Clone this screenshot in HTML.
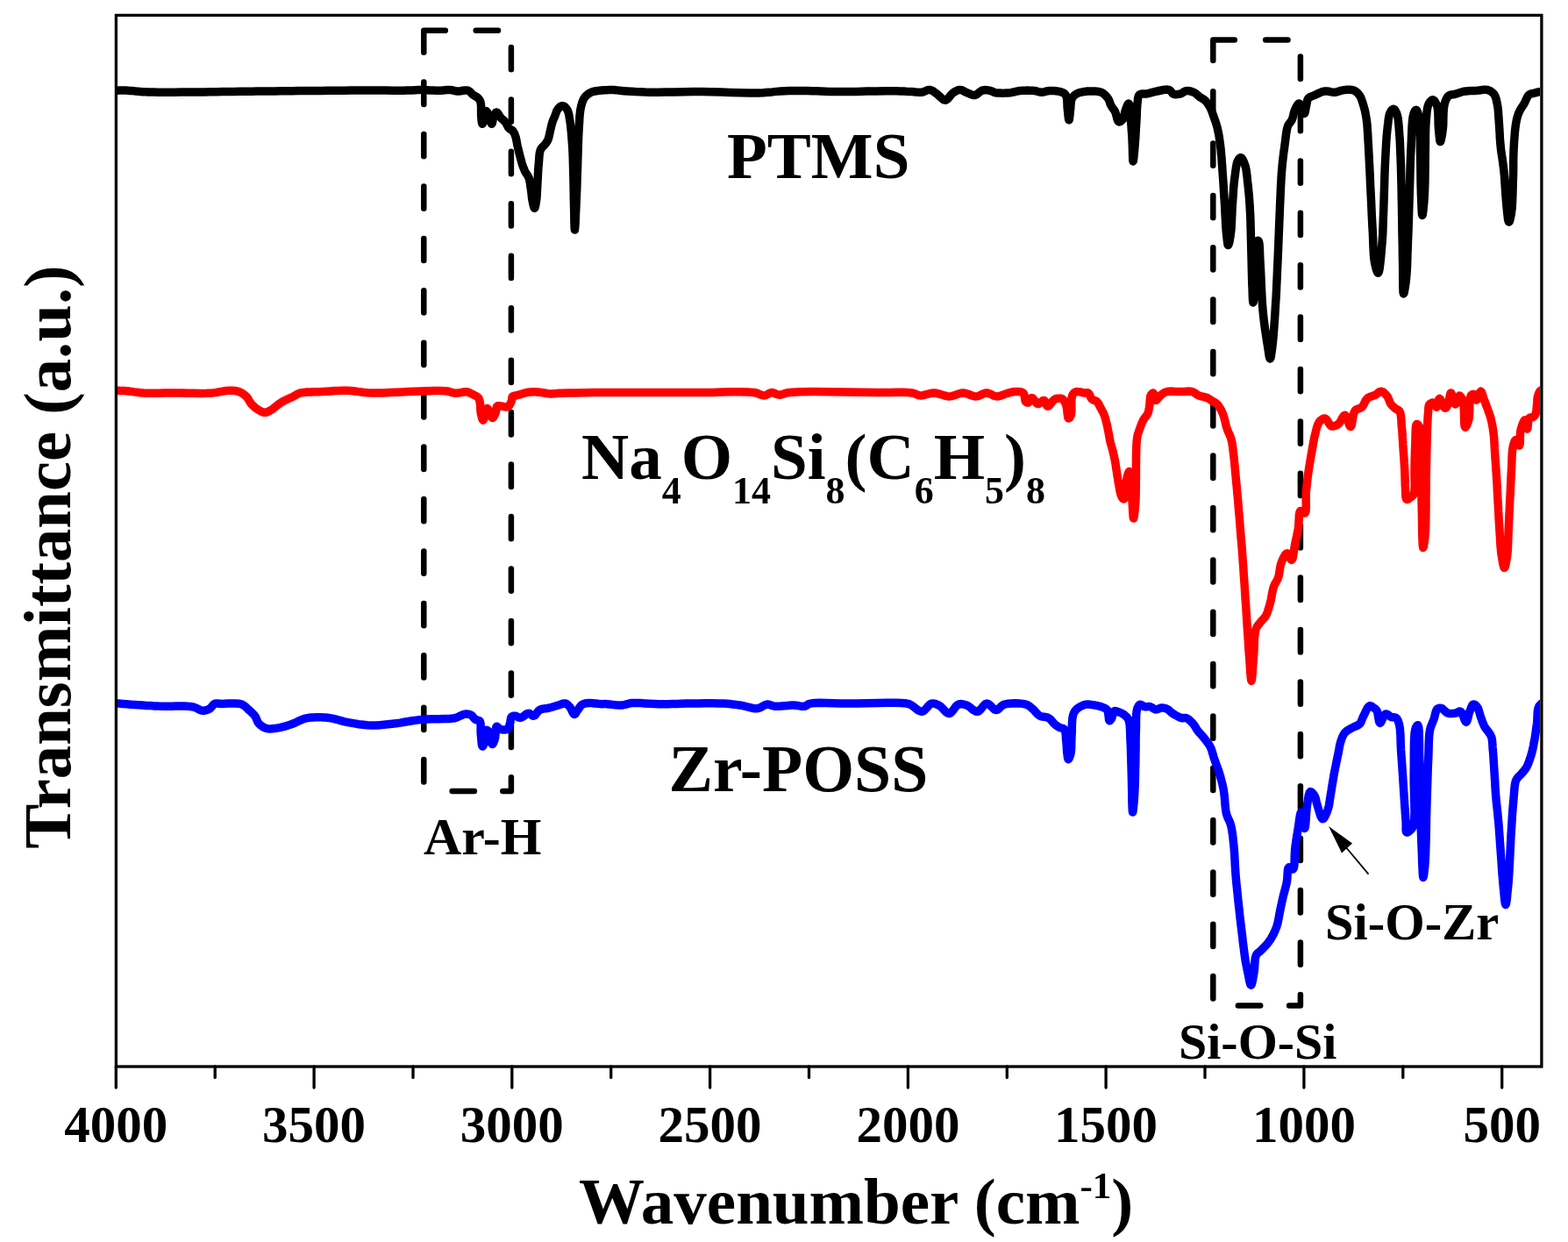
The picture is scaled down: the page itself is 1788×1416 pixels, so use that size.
<!DOCTYPE html>
<html><head><meta charset="utf-8"><title>FTIR spectra</title>
<style>html,body{margin:0;padding:0;background:#fff;overflow:hidden}svg{display:block}</style>
</head><body>
<svg width="1788" height="1416" viewBox="0 0 1788 1416" font-family='"Liberation Serif", "Times New Roman", serif' font-weight="bold"><rect x="132.4" y="17.4" width="1625.5" height="1198.6" fill="none" stroke="#000" stroke-width="3.3"/>
<line x1="132.3" y1="1216" x2="132.3" y2="1240" stroke="#000" stroke-width="3.3" stroke-linecap="round"/>
<text x="132.3" y="1302" font-size="59" text-anchor="middle">4000</text>
<line x1="245.2" y1="1216" x2="245.2" y2="1228.5" stroke="#000" stroke-width="3.3" stroke-linecap="round"/>
<line x1="358.1" y1="1216" x2="358.1" y2="1240" stroke="#000" stroke-width="3.3" stroke-linecap="round"/>
<text x="358.1" y="1302" font-size="59" text-anchor="middle">3500</text>
<line x1="471.0" y1="1216" x2="471.0" y2="1228.5" stroke="#000" stroke-width="3.3" stroke-linecap="round"/>
<line x1="583.8" y1="1216" x2="583.8" y2="1240" stroke="#000" stroke-width="3.3" stroke-linecap="round"/>
<text x="583.8" y="1302" font-size="59" text-anchor="middle">3000</text>
<line x1="696.7" y1="1216" x2="696.7" y2="1228.5" stroke="#000" stroke-width="3.3" stroke-linecap="round"/>
<line x1="809.6" y1="1216" x2="809.6" y2="1240" stroke="#000" stroke-width="3.3" stroke-linecap="round"/>
<text x="809.6" y="1302" font-size="59" text-anchor="middle">2500</text>
<line x1="922.5" y1="1216" x2="922.5" y2="1228.5" stroke="#000" stroke-width="3.3" stroke-linecap="round"/>
<line x1="1035.4" y1="1216" x2="1035.4" y2="1240" stroke="#000" stroke-width="3.3" stroke-linecap="round"/>
<text x="1035.4" y="1302" font-size="59" text-anchor="middle">2000</text>
<line x1="1148.3" y1="1216" x2="1148.3" y2="1228.5" stroke="#000" stroke-width="3.3" stroke-linecap="round"/>
<line x1="1261.1" y1="1216" x2="1261.1" y2="1240" stroke="#000" stroke-width="3.3" stroke-linecap="round"/>
<text x="1261.1" y="1302" font-size="59" text-anchor="middle">1500</text>
<line x1="1374.0" y1="1216" x2="1374.0" y2="1228.5" stroke="#000" stroke-width="3.3" stroke-linecap="round"/>
<line x1="1486.9" y1="1216" x2="1486.9" y2="1240" stroke="#000" stroke-width="3.3" stroke-linecap="round"/>
<text x="1486.9" y="1302" font-size="59" text-anchor="middle">1000</text>
<line x1="1599.8" y1="1216" x2="1599.8" y2="1228.5" stroke="#000" stroke-width="3.3" stroke-linecap="round"/>
<line x1="1712.7" y1="1216" x2="1712.7" y2="1240" stroke="#000" stroke-width="3.3" stroke-linecap="round"/>
<text x="1712.7" y="1302" font-size="59" text-anchor="middle">500</text>
<polyline points="483.3,59.8 483.3,34.8 507.8,34.8" fill="none" stroke="#000" stroke-width="6.5" stroke-linecap="round" stroke-linejoin="round"/>
<polyline points="542.7,34.8 568.0,34.8" fill="none" stroke="#000" stroke-width="6.5" stroke-linecap="round" stroke-linejoin="round"/>
<polyline points="582.9,53.9 582.9,79.2" fill="none" stroke="#000" stroke-width="6.5" stroke-linecap="round" stroke-linejoin="round"/>
<polyline points="582.9,113.4 582.9,138.7" fill="none" stroke="#000" stroke-width="6.5" stroke-linecap="round" stroke-linejoin="round"/>
<polyline points="582.9,172.8 582.9,198.2" fill="none" stroke="#000" stroke-width="6.5" stroke-linecap="round" stroke-linejoin="round"/>
<polyline points="582.9,232.3 582.9,257.6" fill="none" stroke="#000" stroke-width="6.5" stroke-linecap="round" stroke-linejoin="round"/>
<polyline points="582.9,291.8 582.9,317.0" fill="none" stroke="#000" stroke-width="6.5" stroke-linecap="round" stroke-linejoin="round"/>
<polyline points="582.9,351.2 582.9,376.5" fill="none" stroke="#000" stroke-width="6.5" stroke-linecap="round" stroke-linejoin="round"/>
<polyline points="582.9,410.7 582.9,436.0" fill="none" stroke="#000" stroke-width="6.5" stroke-linecap="round" stroke-linejoin="round"/>
<polyline points="582.9,470.1 582.9,495.4" fill="none" stroke="#000" stroke-width="6.5" stroke-linecap="round" stroke-linejoin="round"/>
<polyline points="582.9,529.6 582.9,554.9" fill="none" stroke="#000" stroke-width="6.5" stroke-linecap="round" stroke-linejoin="round"/>
<polyline points="582.9,589.0 582.9,614.3" fill="none" stroke="#000" stroke-width="6.5" stroke-linecap="round" stroke-linejoin="round"/>
<polyline points="582.9,648.5 582.9,673.8" fill="none" stroke="#000" stroke-width="6.5" stroke-linecap="round" stroke-linejoin="round"/>
<polyline points="582.9,707.9 582.9,733.2" fill="none" stroke="#000" stroke-width="6.5" stroke-linecap="round" stroke-linejoin="round"/>
<polyline points="582.9,767.4 582.9,792.7" fill="none" stroke="#000" stroke-width="6.5" stroke-linecap="round" stroke-linejoin="round"/>
<polyline points="582.9,826.8 582.9,852.1" fill="none" stroke="#000" stroke-width="6.5" stroke-linecap="round" stroke-linejoin="round"/>
<polyline points="582.9,886.3 582.9,902.0 573.3,902.0" fill="none" stroke="#000" stroke-width="6.5" stroke-linecap="round" stroke-linejoin="round"/>
<polyline points="540.9,902.0 515.6,902.0" fill="none" stroke="#000" stroke-width="6.5" stroke-linecap="round" stroke-linejoin="round"/>
<polyline points="483.3,891.4 483.3,866.1" fill="none" stroke="#000" stroke-width="6.5" stroke-linecap="round" stroke-linejoin="round"/>
<polyline points="483.3,832.0 483.3,806.7" fill="none" stroke="#000" stroke-width="6.5" stroke-linecap="round" stroke-linejoin="round"/>
<polyline points="483.3,772.6 483.3,747.3" fill="none" stroke="#000" stroke-width="6.5" stroke-linecap="round" stroke-linejoin="round"/>
<polyline points="483.3,713.2 483.3,687.9" fill="none" stroke="#000" stroke-width="6.5" stroke-linecap="round" stroke-linejoin="round"/>
<polyline points="483.3,653.7 483.3,628.4" fill="none" stroke="#000" stroke-width="6.5" stroke-linecap="round" stroke-linejoin="round"/>
<polyline points="483.3,594.3 483.3,569.0" fill="none" stroke="#000" stroke-width="6.5" stroke-linecap="round" stroke-linejoin="round"/>
<polyline points="483.3,534.9 483.3,509.6" fill="none" stroke="#000" stroke-width="6.5" stroke-linecap="round" stroke-linejoin="round"/>
<polyline points="483.3,475.4 483.3,450.1" fill="none" stroke="#000" stroke-width="6.5" stroke-linecap="round" stroke-linejoin="round"/>
<polyline points="483.3,416.0 483.3,390.7" fill="none" stroke="#000" stroke-width="6.5" stroke-linecap="round" stroke-linejoin="round"/>
<polyline points="483.3,356.6 483.3,331.3" fill="none" stroke="#000" stroke-width="6.5" stroke-linecap="round" stroke-linejoin="round"/>
<polyline points="483.3,297.1 483.3,271.9" fill="none" stroke="#000" stroke-width="6.5" stroke-linecap="round" stroke-linejoin="round"/>
<polyline points="483.3,237.7 483.3,212.4" fill="none" stroke="#000" stroke-width="6.5" stroke-linecap="round" stroke-linejoin="round"/>
<polyline points="483.3,178.3 483.3,153.0" fill="none" stroke="#000" stroke-width="6.5" stroke-linecap="round" stroke-linejoin="round"/>
<polyline points="483.3,118.9 483.3,93.6" fill="none" stroke="#000" stroke-width="6.5" stroke-linecap="round" stroke-linejoin="round"/>
<polyline points="1383.3,68.9 1383.3,45.4 1407.8,45.4" fill="none" stroke="#000" stroke-width="6.5" stroke-linecap="round" stroke-linejoin="round"/>
<polyline points="1443.2,45.4 1468.5,45.4" fill="none" stroke="#000" stroke-width="6.5" stroke-linecap="round" stroke-linejoin="round"/>
<polyline points="1482.9,64.5 1482.9,89.9" fill="none" stroke="#000" stroke-width="6.5" stroke-linecap="round" stroke-linejoin="round"/>
<polyline points="1482.9,124.0 1482.9,149.3" fill="none" stroke="#000" stroke-width="6.5" stroke-linecap="round" stroke-linejoin="round"/>
<polyline points="1482.9,183.4 1482.9,208.7" fill="none" stroke="#000" stroke-width="6.5" stroke-linecap="round" stroke-linejoin="round"/>
<polyline points="1482.9,242.8 1482.9,268.1" fill="none" stroke="#000" stroke-width="6.5" stroke-linecap="round" stroke-linejoin="round"/>
<polyline points="1482.9,302.2 1482.9,327.5" fill="none" stroke="#000" stroke-width="6.5" stroke-linecap="round" stroke-linejoin="round"/>
<polyline points="1482.9,361.6 1482.9,386.9" fill="none" stroke="#000" stroke-width="6.5" stroke-linecap="round" stroke-linejoin="round"/>
<polyline points="1482.9,421.0 1482.9,446.3" fill="none" stroke="#000" stroke-width="6.5" stroke-linecap="round" stroke-linejoin="round"/>
<polyline points="1482.9,480.4 1482.9,505.7" fill="none" stroke="#000" stroke-width="6.5" stroke-linecap="round" stroke-linejoin="round"/>
<polyline points="1482.9,539.8 1482.9,565.1" fill="none" stroke="#000" stroke-width="6.5" stroke-linecap="round" stroke-linejoin="round"/>
<polyline points="1482.9,599.2 1482.9,624.5" fill="none" stroke="#000" stroke-width="6.5" stroke-linecap="round" stroke-linejoin="round"/>
<polyline points="1482.9,658.6 1482.9,683.9" fill="none" stroke="#000" stroke-width="6.5" stroke-linecap="round" stroke-linejoin="round"/>
<polyline points="1482.9,718.1 1482.9,743.4" fill="none" stroke="#000" stroke-width="6.5" stroke-linecap="round" stroke-linejoin="round"/>
<polyline points="1482.9,777.5 1482.9,802.8" fill="none" stroke="#000" stroke-width="6.5" stroke-linecap="round" stroke-linejoin="round"/>
<polyline points="1482.9,836.9 1482.9,862.2" fill="none" stroke="#000" stroke-width="6.5" stroke-linecap="round" stroke-linejoin="round"/>
<polyline points="1482.9,896.3 1482.9,921.6" fill="none" stroke="#000" stroke-width="6.5" stroke-linecap="round" stroke-linejoin="round"/>
<polyline points="1482.9,955.7 1482.9,981.0" fill="none" stroke="#000" stroke-width="6.5" stroke-linecap="round" stroke-linejoin="round"/>
<polyline points="1482.9,1015.1 1482.9,1040.4" fill="none" stroke="#000" stroke-width="6.5" stroke-linecap="round" stroke-linejoin="round"/>
<polyline points="1482.9,1074.5 1482.9,1099.8" fill="none" stroke="#000" stroke-width="6.5" stroke-linecap="round" stroke-linejoin="round"/>
<polyline points="1482.9,1133.9 1482.9,1146.4 1470.1,1146.4" fill="none" stroke="#000" stroke-width="6.5" stroke-linecap="round" stroke-linejoin="round"/>
<polyline points="1437.2,1146.4 1411.9,1146.4" fill="none" stroke="#000" stroke-width="6.5" stroke-linecap="round" stroke-linejoin="round"/>
<polyline points="1383.3,1138.5 1383.3,1113.1" fill="none" stroke="#000" stroke-width="6.5" stroke-linecap="round" stroke-linejoin="round"/>
<polyline points="1383.3,1079.1 1383.3,1053.8" fill="none" stroke="#000" stroke-width="6.5" stroke-linecap="round" stroke-linejoin="round"/>
<polyline points="1383.3,1019.7 1383.3,994.4" fill="none" stroke="#000" stroke-width="6.5" stroke-linecap="round" stroke-linejoin="round"/>
<polyline points="1383.3,960.4 1383.3,935.1" fill="none" stroke="#000" stroke-width="6.5" stroke-linecap="round" stroke-linejoin="round"/>
<polyline points="1383.3,901.0 1383.3,875.8" fill="none" stroke="#000" stroke-width="6.5" stroke-linecap="round" stroke-linejoin="round"/>
<polyline points="1383.3,841.7 1383.3,816.4" fill="none" stroke="#000" stroke-width="6.5" stroke-linecap="round" stroke-linejoin="round"/>
<polyline points="1383.3,782.3 1383.3,757.0" fill="none" stroke="#000" stroke-width="6.5" stroke-linecap="round" stroke-linejoin="round"/>
<polyline points="1383.3,723.0 1383.3,697.7" fill="none" stroke="#000" stroke-width="6.5" stroke-linecap="round" stroke-linejoin="round"/>
<polyline points="1383.3,663.6 1383.3,638.4" fill="none" stroke="#000" stroke-width="6.5" stroke-linecap="round" stroke-linejoin="round"/>
<polyline points="1383.3,604.3 1383.3,579.0" fill="none" stroke="#000" stroke-width="6.5" stroke-linecap="round" stroke-linejoin="round"/>
<polyline points="1383.3,544.9 1383.3,519.6" fill="none" stroke="#000" stroke-width="6.5" stroke-linecap="round" stroke-linejoin="round"/>
<polyline points="1383.3,485.6 1383.3,460.3" fill="none" stroke="#000" stroke-width="6.5" stroke-linecap="round" stroke-linejoin="round"/>
<polyline points="1383.3,426.2 1383.3,400.9" fill="none" stroke="#000" stroke-width="6.5" stroke-linecap="round" stroke-linejoin="round"/>
<polyline points="1383.3,366.9 1383.3,341.6" fill="none" stroke="#000" stroke-width="6.5" stroke-linecap="round" stroke-linejoin="round"/>
<polyline points="1383.3,307.5 1383.3,282.2" fill="none" stroke="#000" stroke-width="6.5" stroke-linecap="round" stroke-linejoin="round"/>
<polyline points="1383.3,248.2 1383.3,222.9" fill="none" stroke="#000" stroke-width="6.5" stroke-linecap="round" stroke-linejoin="round"/>
<polyline points="1383.3,188.8 1383.3,163.5" fill="none" stroke="#000" stroke-width="6.5" stroke-linecap="round" stroke-linejoin="round"/>
<polyline points="1383.3,129.5 1383.3,104.2" fill="none" stroke="#000" stroke-width="6.5" stroke-linecap="round" stroke-linejoin="round"/>
<defs><clipPath id="pa"><rect x="134" y="19" width="1622" height="1195.5"/></clipPath></defs>
<g clip-path="url(#pa)" fill="none" stroke-width="9.5" stroke-linejoin="round" stroke-linecap="round">
<polyline points="131.0,103.2 133.5,103.2 136.0,103.1 138.5,103.1 141.0,103.1 143.5,103.1 146.0,103.2 148.3,103.4 150.6,103.6 152.9,103.8 155.2,104.1 157.5,104.3 160.0,104.5 163.0,104.7 166.1,104.8 169.3,105.0 172.7,105.1 176.2,105.1 180.0,105.2 185.9,105.3 192.3,105.2 199.1,105.2 206.2,105.1 213.2,105.1 220.0,105.0 226.7,104.9 233.3,104.9 240.0,104.8 246.7,104.7 253.3,104.6 260.0,104.5 266.7,104.4 273.3,104.3 280.0,104.2 286.7,104.2 293.3,104.1 300.0,104.0 306.7,103.9 313.3,103.9 320.0,103.8 326.7,103.7 333.3,103.7 340.0,103.6 346.7,103.5 353.3,103.5 360.0,103.4 366.7,103.4 373.3,103.3 380.0,103.3 386.7,103.2 393.3,103.2 400.0,103.1 406.7,103.1 413.3,103.0 420.0,103.0 426.8,103.0 433.8,103.1 440.9,103.1 447.7,103.2 454.1,103.2 460.0,103.2 463.7,103.1 467.2,103.0 470.4,102.9 473.6,102.7 476.7,102.6 480.0,102.6 483.4,102.7 486.8,102.8 490.2,103.0 493.6,103.1 496.9,103.3 500.0,103.3 502.5,103.2 505.1,103.0 507.5,102.8 509.9,102.6 512.1,102.6 514.1,102.6 515.4,102.8 516.6,103.0 517.7,103.3 518.8,103.6 519.9,103.8 521.2,104.0 523.2,104.0 525.4,103.7 527.7,103.3 530.0,103.0 532.1,103.0 533.9,103.3 535.0,103.9 536.0,104.6 536.9,105.5 537.7,106.5 538.6,107.4 539.5,108.2 540.5,108.8 541.5,109.4 542.5,110.0 543.5,110.5 544.4,111.1 545.2,111.8 545.8,112.5 546.4,113.2 546.9,113.9 547.3,114.8 547.7,115.7 548.0,116.7 548.4,118.8 548.6,121.4 548.6,124.2 548.6,127.1 548.6,129.8 548.7,132.3 548.9,134.2 549.0,136.1 549.2,138.1 549.5,139.7 549.8,140.9 550.1,141.3 550.6,140.2 551.3,137.5 552.0,134.0 552.8,130.5 553.6,127.7 554.4,126.6 555.0,126.9 555.6,127.9 556.2,129.2 556.8,130.8 557.4,132.3 557.9,133.7 558.4,135.1 558.9,136.8 559.4,138.4 559.8,139.9 560.3,140.9 560.7,141.3 561.2,140.7 561.6,139.1 562.0,136.9 562.5,134.5 563.0,132.4 563.6,130.8 564.0,130.1 564.5,129.4 564.9,128.9 565.4,128.4 565.9,128.1 566.4,128.0 567.1,128.3 567.7,129.1 568.4,130.2 569.1,131.4 569.8,132.6 570.6,133.7 571.5,134.6 572.5,135.6 573.5,136.4 574.5,137.3 575.4,138.3 576.3,139.3 577.1,140.4 577.8,141.7 578.4,143.0 579.1,144.3 579.7,145.4 580.5,146.4 581.2,147.0 581.9,147.4 582.6,147.8 583.4,148.2 584.1,148.6 584.7,149.2 585.3,150.0 585.8,150.8 586.3,151.7 586.8,152.7 587.2,153.8 587.6,154.9 588.2,156.7 588.6,158.8 589.1,161.0 589.5,163.2 589.9,165.5 590.4,167.6 590.9,169.5 591.3,171.4 591.8,173.3 592.2,175.2 592.7,177.1 593.2,178.9 593.7,180.6 594.1,182.3 594.6,184.0 595.0,185.7 595.5,187.3 596.0,188.8 596.4,190.0 596.9,191.2 597.4,192.4 597.8,193.5 598.3,194.7 598.9,195.8 599.6,197.0 600.3,198.1 601.1,199.2 601.8,200.4 602.5,201.6 603.1,202.9 603.6,204.6 604.0,206.4 604.4,208.2 604.6,210.2 604.9,212.2 605.2,214.2 605.6,216.7 605.9,219.4 606.2,222.1 606.5,224.9 606.9,227.4 607.3,229.7 607.6,231.3 608.0,233.1 608.4,234.7 608.8,236.1 609.1,237.0 609.5,237.4 609.9,237.0 610.3,235.9 610.6,234.2 611.0,232.3 611.3,230.3 611.6,228.3 612.0,225.3 612.2,221.9 612.4,218.3 612.6,214.5 612.8,210.7 613.0,207.1 613.2,203.5 613.4,199.9 613.6,196.3 613.8,192.7 614.1,189.2 614.4,185.9 614.6,183.1 614.8,180.2 615.0,177.5 615.3,174.8 615.8,172.5 616.5,170.4 617.2,169.2 618.0,168.2 618.9,167.3 619.8,166.5 620.7,165.6 621.5,164.7 622.2,163.8 622.8,162.9 623.4,162.0 624.0,161.1 624.5,160.1 625.0,159.1 625.5,157.8 625.8,156.5 626.2,155.1 626.5,153.6 626.8,152.1 627.1,150.6 627.5,148.8 628.0,146.8 628.4,144.9 628.9,142.9 629.4,141.0 629.9,139.3 630.4,138.0 630.8,136.8 631.3,135.7 631.8,134.6 632.3,133.4 632.8,132.3 633.2,131.1 633.7,129.8 634.1,128.6 634.5,127.4 635.0,126.2 635.6,125.2 636.2,124.3 636.9,123.5 637.6,122.7 638.3,122.0 639.1,121.4 639.8,121.0 640.3,120.8 640.8,120.7 641.2,120.7 641.7,120.7 642.2,120.8 642.7,121.0 643.4,121.4 644.2,121.9 644.9,122.6 645.6,123.4 646.3,124.3 646.9,125.2 647.6,126.7 648.1,128.3 648.6,130.1 649.0,132.1 649.3,134.2 649.7,136.5 650.3,140.4 650.8,144.7 651.3,149.4 651.7,154.4 652.1,159.5 652.5,164.7 652.9,171.2 653.2,178.0 653.4,185.0 653.6,192.2 653.8,199.6 654.0,207.1 654.2,217.1 654.4,228.9 654.7,241.0 654.9,251.6 655.1,259.1 655.4,262.0 655.7,259.9 656.1,254.5 656.4,246.7 656.8,237.9 657.2,229.0 657.5,221.2 657.8,214.2 658.0,207.0 658.2,199.9 658.5,192.7 658.7,185.7 658.9,178.9 659.1,172.7 659.3,166.6 659.5,160.5 659.7,154.6 660.0,148.9 660.3,143.6 660.6,139.7 660.8,135.9 661.0,132.2 661.4,128.7 661.8,125.5 662.4,122.4 662.9,120.2 663.5,118.1 664.1,116.2 664.9,114.3 665.7,112.6 666.7,111.1 667.7,109.9 668.7,108.8 669.9,107.8 671.1,106.9 672.4,106.1 673.7,105.4 675.2,104.8 676.7,104.3 678.3,104.0 680.0,103.7 681.8,103.5 683.6,103.3 686.1,103.0 688.9,102.8 691.7,102.7 694.6,102.6 697.4,102.6 700.0,102.6 701.9,102.7 703.6,102.9 705.3,103.1 707.0,103.3 708.9,103.5 711.0,103.7 715.1,104.0 719.7,104.3 724.7,104.6 730.0,104.8 735.7,105.1 741.5,105.2 750.1,105.2 759.5,105.1 769.4,104.9 779.6,104.7 789.9,104.5 800.0,104.5 810.9,104.7 822.2,105.0 833.6,105.5 844.7,105.8 855.2,106.1 864.6,106.0 870.3,105.7 875.6,105.3 880.5,104.9 885.3,104.4 890.0,104.0 895.0,103.7 900.1,103.6 905.3,103.5 910.5,103.5 915.7,103.5 920.8,103.6 926.0,103.7 931.0,103.8 935.9,104.0 940.9,104.2 945.9,104.4 951.2,104.5 957.0,104.6 966.3,104.6 976.9,104.4 988.1,104.1 999.2,103.9 1009.4,103.7 1018.0,103.7 1022.4,103.8 1026.4,103.9 1030.1,104.1 1033.6,104.3 1036.9,104.4 1040.0,104.6 1042.1,104.7 1044.1,104.9 1045.9,105.1 1047.7,105.3 1049.5,105.3 1051.2,105.2 1052.8,104.8 1054.3,104.2 1055.8,103.5 1057.2,102.9 1058.7,102.5 1060.1,102.4 1061.5,102.7 1062.8,103.3 1064.1,104.0 1065.4,104.9 1066.7,105.9 1068.0,106.8 1069.6,108.1 1071.3,109.7 1073.0,111.3 1074.7,112.8 1076.4,113.9 1078.0,114.2 1079.6,113.6 1081.1,112.4 1082.5,110.6 1084.0,108.8 1085.5,107.0 1087.0,105.7 1088.3,104.9 1089.6,104.1 1090.9,103.4 1092.2,102.9 1093.5,102.5 1094.8,102.4 1096.1,102.6 1097.4,103.0 1098.7,103.7 1099.9,104.4 1101.3,105.1 1102.6,105.7 1104.1,106.3 1105.6,107.0 1107.1,107.6 1108.6,108.2 1110.1,108.5 1111.6,108.5 1113.1,108.0 1114.6,107.0 1116.0,105.8 1117.5,104.6 1119.0,103.6 1120.5,102.9 1122.0,102.7 1123.5,102.6 1125.1,102.7 1126.6,102.9 1128.1,103.2 1129.5,103.5 1130.5,103.8 1131.4,104.2 1132.2,104.6 1133.0,105.0 1134.0,105.4 1135.1,105.7 1137.4,106.0 1140.1,106.1 1143.1,106.2 1146.2,106.1 1149.2,105.9 1151.9,105.7 1153.9,105.4 1155.7,105.0 1157.5,104.6 1159.2,104.2 1161.0,103.8 1163.0,103.5 1165.7,103.3 1168.6,103.2 1171.6,103.1 1174.5,103.2 1177.3,103.3 1179.8,103.5 1181.3,103.7 1182.6,104.1 1183.9,104.5 1185.1,104.8 1186.4,105.1 1187.7,105.2 1189.1,105.1 1190.5,104.8 1192.0,104.4 1193.4,104.0 1195.0,103.7 1196.6,103.5 1198.9,103.5 1201.5,103.5 1204.2,103.7 1206.8,104.1 1209.2,104.6 1211.1,105.2 1212.1,105.7 1213.0,106.2 1213.7,106.7 1214.4,107.4 1215.0,108.2 1215.6,109.1 1216.3,111.1 1216.7,113.5 1216.9,116.3 1217.0,119.2 1217.1,122.1 1217.3,124.7 1217.6,127.1 1217.9,129.7 1218.1,132.4 1218.4,134.6 1218.7,136.2 1219.0,136.8 1219.3,136.2 1219.5,134.6 1219.8,132.3 1220.1,129.6 1220.3,127.0 1220.6,124.7 1220.8,122.6 1220.9,120.4 1221.1,118.2 1221.3,116.1 1221.7,114.1 1222.3,112.4 1223.0,111.2 1223.8,110.1 1224.6,109.2 1225.6,108.3 1226.7,107.5 1227.9,106.8 1229.7,106.0 1231.9,105.4 1234.2,104.9 1236.5,104.5 1238.5,104.2 1240.0,104.0 1240.5,104.0 1240.8,103.9 1241.1,103.9 1241.5,104.0 1241.8,104.0 1242.3,104.0 1243.9,104.0 1246.1,104.0 1248.6,104.0 1251.2,104.2 1253.6,104.6 1255.7,105.2 1257.3,106.0 1258.8,107.1 1260.2,108.3 1261.4,109.7 1262.6,111.0 1263.6,112.4 1264.3,113.6 1264.9,115.0 1265.4,116.3 1265.8,117.7 1266.3,119.0 1266.9,120.3 1267.6,121.4 1268.3,122.5 1269.1,123.6 1269.9,124.6 1270.7,125.7 1271.4,127.0 1272.2,129.0 1272.9,131.5 1273.6,134.0 1274.2,136.4 1275.0,138.1 1275.9,139.0 1276.6,139.0 1277.3,138.7 1278.1,138.2 1278.9,137.5 1279.7,136.7 1280.3,135.9 1281.1,134.5 1281.7,132.6 1282.2,130.6 1282.6,128.5 1283.1,126.5 1283.7,124.7 1284.2,123.3 1284.8,121.8 1285.4,120.3 1286.0,119.1 1286.5,118.3 1287.0,118.0 1287.6,119.0 1288.0,121.3 1288.4,124.7 1288.7,128.5 1289.0,132.4 1289.3,135.9 1289.6,139.5 1290.0,143.1 1290.2,146.8 1290.5,150.6 1290.8,154.4 1291.0,158.3 1291.2,163.1 1291.4,168.6 1291.5,174.2 1291.7,179.2 1291.8,182.7 1292.1,184.0 1292.3,183.3 1292.6,181.5 1292.9,178.9 1293.2,175.9 1293.5,172.6 1293.8,169.5 1294.2,164.6 1294.6,159.0 1295.0,153.0 1295.3,146.9 1295.7,141.1 1296.0,135.9 1296.2,132.3 1296.3,128.9 1296.4,125.6 1296.6,122.5 1296.8,119.6 1297.1,116.9 1297.3,115.1 1297.5,113.4 1297.7,111.7 1298.1,110.3 1298.6,109.0 1299.4,108.0 1300.5,107.4 1301.8,107.1 1303.4,107.0 1305.0,107.0 1306.7,107.0 1308.3,106.8 1310.1,106.4 1311.9,105.9 1313.8,105.4 1315.6,104.9 1317.6,104.4 1319.5,104.0 1321.7,103.5 1324.1,103.0 1326.5,102.5 1328.9,102.2 1331.0,102.1 1332.9,102.4 1334.0,103.0 1335.0,103.9 1335.8,104.9 1336.6,105.9 1337.5,106.8 1338.5,107.4 1339.7,107.7 1341.0,107.7 1342.3,107.6 1343.7,107.4 1345.0,107.1 1346.3,106.8 1347.5,106.3 1348.6,105.7 1349.6,105.0 1350.7,104.3 1351.8,103.8 1353.0,103.5 1354.4,103.5 1356.0,103.7 1357.6,104.0 1359.1,104.5 1360.6,105.1 1362.0,105.7 1363.1,106.3 1364.0,107.0 1364.9,107.8 1365.8,108.6 1366.7,109.4 1367.6,110.2 1368.7,110.9 1369.8,111.6 1371.0,112.3 1372.1,113.0 1373.3,113.8 1374.3,114.7 1375.4,115.8 1376.4,117.0 1377.3,118.3 1378.2,119.7 1379.1,121.1 1379.9,122.5 1380.7,124.1 1381.4,125.8 1382.1,127.5 1382.7,129.3 1383.4,131.2 1384.0,133.0 1384.7,135.0 1385.5,137.1 1386.2,139.2 1386.9,141.4 1387.6,143.6 1388.2,146.0 1388.9,149.1 1389.6,152.5 1390.2,155.9 1390.7,159.5 1391.2,163.2 1391.7,166.9 1392.2,171.3 1392.6,175.8 1393.0,180.4 1393.3,185.2 1393.7,190.0 1394.0,194.9 1394.4,200.5 1394.8,206.2 1395.2,212.1 1395.5,218.0 1395.9,224.0 1396.3,229.9 1396.7,236.3 1397.0,243.0 1397.4,249.7 1397.7,256.2 1398.1,262.1 1398.6,267.2 1398.9,269.9 1399.2,272.7 1399.5,275.4 1399.8,277.5 1400.1,279.0 1400.5,279.6 1400.9,279.1 1401.4,277.6 1401.9,275.4 1402.4,272.8 1402.9,270.0 1403.3,267.2 1403.9,262.1 1404.3,256.1 1404.6,249.5 1404.9,242.7 1405.2,236.0 1405.6,229.9 1406.0,224.9 1406.3,220.1 1406.6,215.3 1407.0,210.7 1407.5,206.2 1408.0,201.9 1408.5,198.4 1408.9,194.8 1409.4,191.3 1410.0,188.1 1410.6,185.4 1411.5,183.2 1412.0,182.3 1412.6,181.4 1413.2,180.7 1413.8,180.1 1414.4,179.8 1415.0,179.7 1415.8,180.1 1416.6,181.1 1417.4,182.5 1418.2,184.2 1418.9,186.1 1419.6,187.9 1420.5,191.0 1421.2,194.6 1421.7,198.6 1422.2,202.7 1422.6,207.0 1423.1,211.2 1423.6,216.0 1424.1,220.9 1424.5,226.0 1424.9,231.1 1425.2,236.3 1425.5,241.5 1425.8,247.1 1426.0,252.8 1426.1,258.5 1426.3,264.4 1426.4,270.3 1426.6,276.5 1426.8,284.1 1427.0,292.2 1427.2,300.5 1427.4,308.6 1427.6,316.3 1427.8,323.1 1428.0,327.7 1428.2,332.6 1428.3,337.3 1428.5,341.2 1428.8,344.0 1429.0,345.0 1429.3,344.0 1429.6,341.3 1429.9,337.3 1430.2,332.6 1430.5,327.7 1430.8,323.1 1431.0,315.6 1431.0,306.6 1430.9,297.1 1431.0,288.2 1431.5,281.0 1432.4,276.5 1432.8,275.8 1433.2,275.2 1433.6,274.7 1434.0,274.4 1434.4,274.2 1434.8,274.2 1435.6,275.7 1436.1,279.0 1436.4,283.6 1436.6,289.0 1436.8,294.5 1437.1,299.8 1437.5,306.9 1437.9,314.9 1438.2,323.2 1438.6,331.5 1439.0,339.4 1439.4,346.4 1439.8,350.8 1440.1,354.8 1440.5,358.6 1440.9,362.2 1441.3,365.9 1441.8,369.7 1442.3,373.6 1442.9,377.6 1443.5,381.6 1444.1,385.6 1444.7,389.4 1445.3,393.0 1445.8,396.2 1446.3,399.7 1446.8,403.2 1447.3,406.2 1447.8,408.2 1448.3,409.0 1448.8,408.3 1449.3,406.3 1449.7,403.5 1450.2,400.1 1450.7,396.5 1451.1,393.0 1451.8,386.7 1452.4,379.3 1453.0,371.2 1453.6,362.8 1454.1,354.5 1454.6,346.4 1455.1,338.7 1455.5,331.1 1455.8,323.4 1456.2,315.7 1456.5,307.9 1456.9,299.8 1457.3,290.4 1457.7,280.6 1458.1,270.6 1458.5,260.7 1458.9,250.9 1459.3,241.5 1459.6,233.3 1460.0,225.2 1460.3,217.2 1460.7,209.5 1461.1,202.0 1461.6,194.9 1462.1,189.4 1462.6,184.1 1463.2,179.0 1463.8,174.0 1464.5,169.2 1465.1,164.6 1465.6,160.7 1466.1,156.9 1466.5,153.1 1467.1,149.6 1467.7,146.4 1468.6,143.6 1469.3,142.2 1470.1,141.0 1470.9,140.0 1471.7,138.9 1472.5,137.9 1473.2,136.6 1473.9,134.8 1474.4,132.9 1474.9,130.8 1475.4,128.7 1476.0,126.8 1476.7,125.0 1477.4,123.5 1478.1,121.9 1479.0,120.4 1479.8,119.2 1480.6,118.3 1481.4,118.0 1482.4,118.9 1483.5,121.1 1484.5,123.9 1485.5,126.7 1486.4,128.8 1487.2,129.6 1487.7,129.1 1488.2,127.8 1488.5,126.0 1488.9,124.0 1489.2,122.0 1489.6,120.3 1489.9,118.8 1490.2,117.4 1490.4,115.9 1490.8,114.5 1491.2,113.2 1491.9,112.1 1492.8,111.3 1493.8,110.6 1495.0,110.1 1496.2,109.6 1497.6,109.1 1498.9,108.6 1500.6,107.8 1502.5,106.9 1504.5,105.9 1506.5,105.1 1508.5,104.4 1510.5,104.0 1512.4,103.9 1514.4,104.1 1516.4,104.5 1518.4,104.9 1520.3,105.2 1522.2,105.2 1523.8,105.0 1525.3,104.6 1526.8,104.1 1528.4,103.6 1529.9,103.1 1531.5,102.8 1533.4,102.6 1535.4,102.3 1537.5,102.2 1539.5,102.2 1541.5,102.4 1543.2,102.8 1544.6,103.4 1545.9,104.2 1547.1,105.1 1548.2,106.2 1549.2,107.3 1550.2,108.6 1551.2,110.2 1552.1,112.0 1552.8,114.0 1553.5,116.0 1554.2,118.2 1554.8,120.3 1555.5,122.8 1556.2,125.3 1556.8,127.9 1557.3,130.6 1557.8,133.5 1558.3,136.6 1558.9,141.6 1559.3,147.1 1559.7,152.9 1560.0,159.1 1560.4,165.3 1560.7,171.6 1561.1,179.0 1561.5,186.6 1561.9,194.5 1562.3,202.4 1562.6,210.4 1563.0,218.2 1563.4,226.0 1563.8,234.0 1564.1,241.9 1564.5,249.8 1564.9,257.4 1565.3,264.8 1565.6,271.1 1565.8,277.6 1566.1,283.8 1566.4,289.8 1566.9,295.2 1567.6,299.8 1568.2,302.4 1568.8,305.0 1569.5,307.4 1570.2,309.5 1570.9,310.8 1571.5,311.3 1572.4,309.7 1573.2,305.7 1573.9,300.0 1574.6,293.4 1575.2,286.7 1575.7,280.7 1576.2,274.7 1576.6,268.6 1576.9,262.4 1577.1,256.0 1577.3,249.4 1577.6,242.5 1577.9,233.5 1578.2,224.0 1578.5,214.1 1578.8,204.1 1579.1,194.4 1579.5,185.3 1579.9,177.7 1580.3,170.1 1580.7,162.6 1581.2,155.6 1581.8,149.1 1582.4,143.4 1582.8,140.3 1583.1,137.3 1583.5,134.6 1584.0,132.1 1584.5,129.9 1585.3,128.1 1585.8,127.1 1586.5,126.2 1587.1,125.4 1587.8,124.8 1588.5,124.4 1589.1,124.3 1589.8,124.6 1590.5,125.2 1591.1,126.2 1591.8,127.4 1592.4,128.7 1592.9,130.0 1593.7,132.8 1594.3,136.2 1594.7,140.0 1595.1,144.2 1595.4,148.5 1595.7,152.9 1596.2,159.1 1596.5,165.9 1596.8,172.9 1597.1,180.2 1597.4,187.6 1597.6,194.9 1597.8,202.6 1598.0,210.4 1598.2,218.2 1598.3,226.2 1598.5,234.3 1598.6,242.5 1598.8,251.9 1598.9,261.7 1599.1,271.6 1599.3,281.5 1599.4,290.9 1599.6,299.7 1599.7,306.9 1599.7,314.7 1599.8,322.3 1599.9,328.7 1600.1,333.3 1600.5,335.0 1600.9,334.3 1601.4,332.3 1601.9,329.4 1602.5,325.9 1603.0,322.3 1603.4,318.8 1603.9,313.5 1604.3,307.6 1604.6,301.2 1604.8,294.6 1605.0,287.7 1605.3,280.7 1605.6,271.8 1606.0,262.5 1606.3,252.8 1606.6,243.0 1606.9,233.2 1607.2,223.5 1607.5,213.8 1607.8,204.0 1608.0,194.1 1608.3,184.4 1608.7,175.1 1609.1,166.3 1609.4,159.4 1609.7,152.3 1610.0,145.5 1610.4,139.2 1611.0,133.9 1611.9,130.0 1612.3,128.8 1612.8,127.7 1613.3,126.7 1613.8,125.9 1614.3,125.5 1614.8,125.3 1615.3,125.6 1615.8,126.3 1616.4,127.4 1616.8,128.7 1617.3,130.3 1617.7,131.9 1618.5,136.9 1618.9,143.6 1619.2,151.3 1619.3,159.6 1619.4,167.9 1619.6,175.8 1619.8,183.8 1619.9,192.2 1620.0,200.7 1620.1,208.9 1620.3,216.6 1620.5,223.5 1620.7,228.2 1620.9,233.1 1621.1,237.8 1621.3,241.7 1621.6,244.5 1621.9,245.5 1622.3,244.5 1622.7,241.7 1623.1,237.8 1623.6,233.1 1624.0,228.2 1624.3,223.5 1624.6,216.5 1624.9,208.8 1625.0,200.5 1625.1,192.0 1625.2,183.7 1625.3,175.8 1625.4,169.1 1625.5,162.3 1625.5,155.7 1625.6,149.3 1625.8,143.2 1626.2,137.7 1626.5,134.0 1626.8,130.3 1627.1,126.9 1627.6,123.7 1628.2,120.9 1629.1,118.6 1629.8,117.4 1630.5,116.3 1631.4,115.2 1632.3,114.5 1633.1,113.9 1633.9,113.8 1634.7,114.1 1635.6,114.9 1636.4,116.0 1637.2,117.4 1638.0,118.9 1638.6,120.5 1639.4,124.0 1639.8,128.3 1640.0,133.2 1640.1,138.2 1640.2,143.0 1640.5,147.2 1640.8,150.2 1641.1,153.4 1641.4,156.5 1641.7,159.1 1642.0,160.9 1642.4,161.6 1642.8,160.9 1643.3,159.1 1643.9,156.5 1644.4,153.4 1644.9,150.2 1645.3,147.2 1645.7,142.8 1645.8,137.8 1645.9,132.5 1646.1,127.3 1646.5,122.5 1647.2,118.6 1647.8,116.6 1648.4,114.7 1649.2,113.0 1650.0,111.5 1650.9,110.2 1652.0,109.1 1653.1,108.5 1654.3,108.1 1655.5,107.8 1656.9,107.7 1658.3,107.5 1659.6,107.2 1661.1,106.7 1662.6,106.2 1664.1,105.7 1665.7,105.2 1667.4,104.7 1669.1,104.3 1671.5,104.0 1674.0,103.8 1676.6,103.6 1679.3,103.5 1681.9,103.4 1684.4,103.3 1686.4,103.1 1688.4,102.8 1690.4,102.4 1692.3,102.2 1694.1,102.2 1695.8,102.4 1697.3,102.8 1698.7,103.4 1700.1,104.2 1701.3,105.1 1702.5,106.1 1703.5,107.2 1704.5,108.7 1705.2,110.4 1705.9,112.3 1706.4,114.3 1706.8,116.4 1707.3,118.6 1707.8,121.4 1708.2,124.4 1708.5,127.6 1708.7,130.9 1708.9,134.2 1709.2,137.7 1709.5,142.1 1709.8,146.8 1710.1,151.6 1710.3,156.6 1710.7,161.5 1711.1,166.3 1711.6,171.0 1712.3,175.7 1713.0,180.3 1713.7,185.1 1714.3,189.9 1714.9,194.9 1715.5,201.1 1715.9,207.6 1716.4,214.4 1716.8,221.0 1717.3,227.3 1717.8,233.0 1718.2,237.2 1718.6,241.7 1719.1,245.9 1719.5,249.6 1720.1,252.1 1720.6,253.1 1721.1,252.7 1721.6,251.4 1722.1,249.6 1722.6,247.3 1723.1,244.9 1723.5,242.5 1724.1,237.5 1724.5,231.6 1724.8,224.9 1725.0,218.0 1725.2,211.0 1725.4,204.4 1725.6,198.0 1725.7,191.5 1725.7,185.0 1725.8,178.6 1726.0,172.3 1726.3,166.3 1726.6,161.1 1727.0,156.0 1727.4,150.9 1727.9,146.1 1728.5,141.7 1729.2,137.7 1729.7,135.4 1730.3,133.3 1730.9,131.4 1731.5,129.6 1732.2,127.9 1733.0,126.2 1733.7,124.8 1734.5,123.6 1735.3,122.4 1736.1,121.2 1737.0,119.9 1737.8,118.6 1738.7,116.9 1739.6,114.9 1740.5,112.9 1741.4,111.0 1742.4,109.3 1743.5,108.1 1744.4,107.5 1745.3,107.1 1746.2,106.8 1747.2,106.6 1748.2,106.4 1749.2,106.2 1750.5,105.9 1751.8,105.5 1753.2,105.2 1754.7,104.9 1756.1,104.6 1757.5,104.3" stroke="#000"/>
<polyline points="131.0,445.2 133.1,445.3 135.2,445.3 137.3,445.4 139.5,445.4 141.7,445.5 144.0,445.7 147.0,446.0 150.0,446.4 153.2,446.9 156.5,447.3 159.9,447.7 163.6,448.0 169.0,448.2 174.8,448.3 180.9,448.2 187.2,448.1 193.6,448.0 199.9,448.0 206.9,448.1 214.3,448.2 221.7,448.3 229.0,448.4 235.8,448.3 241.9,448.0 245.6,447.6 249.2,447.0 252.5,446.4 255.6,445.8 258.5,445.4 261.4,445.2 263.5,445.2 265.4,445.3 267.3,445.4 269.2,445.7 270.9,446.1 272.6,446.6 274.2,447.3 275.7,448.1 277.1,449.0 278.5,450.0 279.8,451.1 281.0,452.2 282.1,453.4 283.0,454.8 283.8,456.3 284.7,457.7 285.6,459.2 286.6,460.5 287.8,461.8 289.2,463.1 290.6,464.4 292.1,465.5 293.6,466.6 295.0,467.5 296.2,468.2 297.3,468.8 298.5,469.4 299.7,469.9 300.8,470.2 302.0,470.3 303.2,470.2 304.3,469.9 305.4,469.4 306.6,468.9 307.8,468.2 309.0,467.5 310.7,466.4 312.5,465.0 314.4,463.5 316.3,462.0 318.2,460.5 320.2,459.1 322.4,457.8 324.8,456.6 327.2,455.4 329.6,454.3 332.0,453.2 334.1,452.2 335.6,451.4 336.9,450.6 338.1,449.9 339.4,449.2 340.8,448.5 342.5,448.0 345.9,447.4 349.8,447.0 354.1,446.9 358.7,446.8 363.3,446.8 367.7,446.6 372.3,446.3 376.9,446.0 381.6,445.6 386.3,445.4 391.0,445.2 395.7,445.2 400.3,445.5 404.8,446.0 409.3,446.6 413.9,447.2 418.6,447.7 423.6,448.0 430.1,448.1 437.0,447.9 444.1,447.6 451.3,447.2 458.5,446.9 465.6,446.6 472.9,446.3 480.5,446.0 488.1,445.7 495.4,445.5 502.0,445.4 507.5,445.7 510.0,446.0 512.2,446.5 514.2,447.1 516.1,447.6 518.0,448.0 520.0,448.2 522.1,448.1 524.2,447.8 526.3,447.4 528.4,447.0 530.3,446.8 532.1,446.8 533.4,447.0 534.5,447.4 535.6,447.9 536.7,448.4 537.7,448.9 538.8,449.5 540.0,450.1 541.2,450.7 542.5,451.3 543.6,452.0 544.7,452.7 545.5,453.6 546.1,454.5 546.5,455.6 546.8,456.7 547.1,457.9 547.3,459.1 547.5,460.3 547.7,461.9 547.8,463.5 547.8,465.2 547.9,467.0 548.0,468.7 548.2,470.3 548.5,472.0 548.9,473.9 549.4,475.8 549.9,477.4 550.4,478.6 550.9,479.0 551.3,478.6 551.8,477.5 552.3,475.9 552.7,474.1 553.2,472.4 553.6,471.0 553.9,469.9 554.3,468.7 554.6,467.6 554.9,466.6 555.2,465.9 555.6,465.6 555.9,465.7 556.2,466.0 556.6,466.5 556.9,467.1 557.2,467.7 557.6,468.3 558.2,469.6 558.9,471.2 559.5,473.1 560.2,474.7 560.9,475.9 561.6,476.4 562.2,476.2 562.8,475.5 563.4,474.5 564.0,473.3 564.5,472.1 565.0,471.0 565.4,469.7 565.7,468.1 565.8,466.5 566.1,465.0 566.4,463.8 567.0,463.0 567.5,462.7 568.1,462.6 568.8,462.7 569.5,462.8 570.2,462.9 571.0,463.0 572.2,463.1 573.6,463.4 575.1,463.7 576.6,463.9 577.9,463.9 579.1,463.6 580.0,463.0 580.8,462.1 581.5,461.0 582.1,459.8 582.6,458.7 583.1,457.6 583.4,456.7 583.6,455.7 583.7,454.6 583.8,453.7 584.0,452.9 584.4,452.2 584.9,451.8 585.5,451.5 586.2,451.3 587.0,451.2 587.8,451.1 588.5,450.9 589.3,450.7 590.2,450.4 591.1,450.2 592.0,450.0 592.9,449.8 593.8,449.5 594.9,449.2 595.9,448.8 597.0,448.4 598.2,448.1 599.3,447.8 600.5,447.5 601.9,447.3 603.3,447.1 604.8,447.0 606.3,446.9 607.8,446.8 609.3,446.8 610.6,446.8 612.0,446.9 613.3,447.0 614.6,447.2 615.9,447.3 617.3,447.5 618.9,447.7 620.5,448.0 622.2,448.3 623.9,448.6 625.6,448.8 627.4,448.9 629.3,448.9 631.1,448.8 633.0,448.7 635.1,448.5 637.3,448.3 640.0,448.2 647.2,448.0 656.1,447.9 666.3,447.7 677.2,447.6 688.6,447.6 700.0,447.5 715.5,447.4 732.4,447.4 750.0,447.4 767.6,447.5 784.5,447.5 800.0,447.5 811.4,447.4 822.9,447.1 833.9,446.8 844.1,446.7 852.9,446.9 860.0,447.5 862.5,448.0 864.6,448.8 866.5,449.6 868.2,450.3 869.9,450.8 871.6,450.9 873.1,450.6 874.5,450.0 875.9,449.2 877.2,448.4 878.6,447.8 880.0,447.5 881.4,447.7 882.7,448.1 884.1,448.8 885.5,449.4 886.9,449.9 888.4,450.2 890.1,450.1 891.7,449.7 893.3,449.2 895.2,448.5 897.4,447.9 900.0,447.5 911.5,446.8 927.7,446.6 946.6,446.7 966.3,447.0 984.8,447.3 1000.0,447.5 1008.0,447.5 1015.7,447.4 1022.9,447.3 1029.4,447.3 1035.2,447.5 1040.0,448.0 1042.0,448.4 1043.6,449.0 1045.0,449.6 1046.4,450.2 1047.9,450.7 1049.5,450.9 1051.8,450.8 1054.3,450.2 1056.9,449.5 1059.6,448.8 1062.3,448.2 1065.0,448.0 1067.9,448.3 1071.0,449.1 1074.0,450.0 1077.1,451.0 1080.1,451.7 1083.0,451.9 1085.6,451.6 1088.1,450.8 1090.6,449.9 1093.0,449.0 1095.5,448.3 1098.0,448.0 1100.6,448.3 1103.1,449.0 1105.7,450.0 1108.3,451.0 1110.8,451.7 1113.2,451.9 1115.3,451.6 1117.3,450.8 1119.2,449.9 1121.1,449.0 1123.1,448.3 1125.0,448.0 1126.9,448.3 1128.9,449.0 1130.8,449.9 1132.7,450.9 1134.7,451.6 1136.7,451.9 1138.9,451.7 1141.2,451.1 1143.6,450.3 1145.8,449.4 1148.0,448.6 1150.0,448.0 1151.3,447.7 1152.4,447.4 1153.6,447.1 1154.7,446.8 1155.8,446.7 1157.0,446.6 1158.6,446.5 1160.4,446.5 1162.2,446.6 1164.0,446.8 1165.6,447.3 1166.8,448.0 1167.6,449.3 1168.2,451.0 1168.5,453.0 1168.7,454.9 1169.0,456.6 1169.6,457.8 1170.0,458.2 1170.5,458.6 1170.9,458.9 1171.4,459.1 1171.9,459.1 1172.4,459.1 1173.1,458.6 1173.7,457.5 1174.4,456.3 1175.1,455.0 1175.8,454.0 1176.6,453.6 1177.6,454.0 1178.7,455.3 1179.9,456.9 1181.1,458.5 1182.4,459.9 1183.6,460.5 1184.7,460.3 1186.0,459.5 1187.2,458.4 1188.4,457.3 1189.5,456.6 1190.5,456.4 1191.3,457.0 1192.0,458.3 1192.6,459.9 1193.2,461.4 1193.9,462.7 1194.7,463.2 1195.9,462.8 1197.2,461.5 1198.6,459.7 1200.0,457.7 1201.6,456.1 1203.1,455.0 1204.5,454.5 1206.0,454.3 1207.5,454.2 1209.0,454.2 1210.3,454.5 1211.5,455.0 1212.5,455.7 1213.3,456.7 1214.0,457.9 1214.6,459.2 1215.2,460.6 1215.7,462.0 1216.3,464.5 1216.8,467.6 1217.1,470.9 1217.5,473.9 1217.9,476.1 1218.5,477.0 1218.9,476.9 1219.4,476.5 1219.9,475.9 1220.4,475.0 1220.9,474.1 1221.3,473.1 1221.8,470.3 1221.9,466.4 1221.8,462.0 1221.8,457.6 1222.0,453.7 1222.7,450.8 1223.2,449.8 1223.8,448.9 1224.5,448.1 1225.2,447.5 1226.0,447.0 1226.9,446.6 1228.3,446.4 1230.0,446.6 1231.7,446.9 1233.6,447.4 1235.2,447.8 1236.7,448.0 1237.5,448.0 1238.3,447.9 1239.0,447.8 1239.6,447.7 1240.3,447.8 1240.9,448.0 1241.7,448.7 1242.4,449.9 1243.0,451.2 1243.6,452.7 1244.3,454.0 1245.1,455.0 1246.0,455.6 1246.9,456.1 1247.9,456.4 1248.9,456.8 1249.8,457.2 1250.7,457.8 1251.5,458.7 1252.3,459.8 1253.0,460.9 1253.6,462.2 1254.2,463.5 1254.9,464.7 1255.6,466.0 1256.4,467.4 1257.1,468.8 1257.8,470.2 1258.5,471.6 1259.1,473.1 1259.7,474.7 1260.2,476.3 1260.6,477.9 1261.1,479.6 1261.5,481.2 1261.9,482.9 1262.3,484.5 1262.7,486.1 1263.0,487.8 1263.3,489.4 1263.7,491.0 1264.0,492.7 1264.3,494.5 1264.7,496.4 1265.0,498.3 1265.3,500.2 1265.7,502.1 1266.1,503.9 1266.5,505.6 1267.0,507.2 1267.4,508.8 1267.9,510.4 1268.4,512.0 1268.8,513.7 1269.3,515.7 1269.8,517.8 1270.3,519.9 1270.7,522.0 1271.2,524.1 1271.6,526.3 1272.0,528.6 1272.4,530.9 1272.7,533.2 1273.0,535.6 1273.4,537.9 1273.7,540.2 1274.0,542.3 1274.4,544.4 1274.7,546.5 1275.0,548.6 1275.4,550.7 1275.8,552.8 1276.2,555.0 1276.6,557.3 1277.0,559.6 1277.5,561.8 1278.0,563.8 1278.6,565.4 1279.0,566.3 1279.5,567.1 1280.0,567.9 1280.5,568.5 1281.0,568.9 1281.4,569.0 1281.8,568.7 1282.2,568.2 1282.6,567.3 1282.9,566.3 1283.2,565.1 1283.5,564.0 1283.9,561.6 1284.1,558.5 1284.2,555.2 1284.3,551.8 1284.5,548.5 1284.9,545.8 1285.3,544.0 1285.7,542.2 1286.2,540.4 1286.8,538.9 1287.3,537.9 1287.7,537.5 1288.1,537.9 1288.5,538.9 1288.9,540.3 1289.2,542.0 1289.5,543.9 1289.8,545.8 1290.2,549.6 1290.5,554.1 1290.7,559.2 1290.8,564.4 1291.0,569.3 1291.2,573.8 1291.4,577.3 1291.6,581.1 1291.8,584.8 1292.1,588.0 1292.3,590.2 1292.6,591.0 1292.9,590.2 1293.3,588.0 1293.7,584.8 1294.1,581.1 1294.4,577.3 1294.7,573.8 1295.0,569.5 1295.1,565.0 1295.2,560.2 1295.3,555.4 1295.3,550.5 1295.4,545.8 1295.4,541.1 1295.5,536.3 1295.4,531.5 1295.5,526.8 1295.5,522.3 1295.6,517.9 1295.7,514.4 1295.8,510.9 1295.9,507.5 1296.1,504.3 1296.4,501.2 1296.8,498.3 1297.2,496.2 1297.8,494.2 1298.4,492.4 1299.0,490.6 1299.7,488.8 1300.3,487.1 1300.8,485.6 1301.4,484.2 1301.9,482.7 1302.5,481.4 1303.1,480.0 1303.8,478.7 1304.6,477.5 1305.4,476.4 1306.3,475.3 1307.2,474.1 1308.0,473.0 1308.7,471.7 1309.2,470.2 1309.7,468.7 1310.0,467.0 1310.3,465.4 1310.5,463.7 1310.8,462.0 1311.0,460.1 1311.2,458.0 1311.3,455.9 1311.5,454.0 1311.7,452.2 1312.2,450.8 1312.6,450.1 1313.1,449.4 1313.6,448.8 1314.1,448.3 1314.6,448.0 1315.0,448.0 1315.5,448.7 1315.9,450.2 1316.3,452.2 1316.7,454.1 1317.2,455.7 1317.8,456.4 1318.6,456.2 1319.4,455.5 1320.3,454.3 1321.3,453.0 1322.4,451.8 1323.4,450.8 1324.4,450.0 1325.5,449.2 1326.6,448.4 1327.8,447.7 1329.0,447.1 1330.4,446.6 1332.6,446.2 1335.0,446.1 1337.7,446.2 1340.4,446.4 1343.1,446.5 1345.7,446.6 1348.1,446.5 1350.6,446.4 1353.1,446.2 1355.5,446.1 1357.7,446.2 1359.7,446.6 1361.0,447.1 1362.2,447.8 1363.3,448.6 1364.4,449.4 1365.5,450.2 1366.7,450.8 1368.2,451.4 1369.9,451.8 1371.7,452.2 1373.4,452.6 1375.0,453.1 1376.5,453.6 1377.5,454.1 1378.5,454.7 1379.4,455.2 1380.2,455.8 1381.1,456.4 1382.0,457.0 1382.9,457.5 1383.9,458.0 1384.8,458.5 1385.8,459.1 1386.7,459.7 1387.6,460.5 1388.8,461.8 1389.9,463.3 1391.0,465.0 1392.1,466.8 1393.1,468.7 1394.0,470.7 1395.0,473.4 1395.9,476.3 1396.7,479.4 1397.5,482.6 1398.2,485.7 1399.1,488.5 1399.9,490.7 1400.8,492.8 1401.7,494.8 1402.6,496.9 1403.4,499.0 1404.1,501.2 1404.7,503.9 1405.2,506.7 1405.6,509.6 1406.0,512.6 1406.3,515.7 1406.7,518.9 1407.2,522.9 1407.6,527.0 1408.0,531.3 1408.4,535.6 1408.8,540.0 1409.2,544.4 1409.6,549.0 1410.1,553.6 1410.5,558.2 1410.9,562.9 1411.4,567.6 1411.8,572.3 1412.2,577.3 1412.6,582.4 1413.1,587.5 1413.5,592.6 1413.9,597.7 1414.3,602.8 1414.7,607.8 1415.1,612.8 1415.6,617.8 1416.0,622.9 1416.4,628.0 1416.8,633.3 1417.2,639.4 1417.7,645.7 1418.1,652.1 1418.5,658.5 1419.0,665.0 1419.4,671.4 1419.8,677.7 1420.2,684.1 1420.7,690.4 1421.1,696.8 1421.5,703.1 1421.9,709.5 1422.3,715.9 1422.7,722.4 1423.2,728.9 1423.6,735.4 1424.0,741.7 1424.5,747.7 1424.9,753.4 1425.3,759.7 1425.7,765.8 1426.2,771.2 1426.6,774.9 1427.0,776.3 1427.4,774.9 1427.9,771.0 1428.3,765.6 1428.7,759.4 1429.2,753.2 1429.6,747.7 1429.9,742.4 1430.1,736.8 1430.3,731.2 1430.6,725.8 1431.2,721.1 1432.1,717.2 1432.8,715.5 1433.6,714.1 1434.4,712.9 1435.3,711.8 1436.3,710.7 1437.2,709.5 1438.2,708.3 1439.3,707.1 1440.4,705.9 1441.5,704.7 1442.6,703.4 1443.5,701.9 1444.6,699.7 1445.5,697.3 1446.3,694.8 1447.1,692.1 1447.9,689.4 1448.6,686.7 1449.3,683.8 1449.9,680.7 1450.4,677.6 1451.0,674.5 1451.6,671.6 1452.4,668.9 1453.2,667.0 1454.0,665.4 1454.9,663.8 1455.9,662.2 1456.7,660.6 1457.5,658.7 1458.3,656.0 1458.8,653.0 1459.3,649.8 1459.8,646.6 1460.4,643.6 1461.3,640.9 1462.2,638.8 1463.2,636.5 1464.4,634.4 1465.5,632.5 1466.6,631.3 1467.7,630.8 1468.6,631.4 1469.5,632.8 1470.4,634.7 1471.3,636.5 1472.1,637.9 1472.8,638.4 1473.7,637.4 1474.4,634.9 1474.9,631.6 1475.5,627.8 1476.0,624.0 1476.6,620.6 1477.2,617.6 1477.9,614.7 1478.6,611.8 1479.2,608.8 1479.8,605.8 1480.4,602.8 1480.8,599.1 1481.0,594.9 1481.2,590.7 1481.4,586.9 1482.0,584.0 1482.9,582.5 1483.6,582.5 1484.5,583.0 1485.5,583.8 1486.4,584.5 1487.3,585.0 1488.0,585.0 1488.9,583.3 1489.3,580.1 1489.3,575.9 1489.2,571.1 1489.2,566.3 1489.3,562.1 1489.6,558.3 1490.0,554.5 1490.4,550.7 1490.8,546.9 1491.3,543.1 1491.8,539.3 1492.4,535.5 1493.0,531.6 1493.6,527.8 1494.3,523.9 1494.9,520.1 1495.6,516.4 1496.2,512.9 1496.8,509.4 1497.4,506.0 1498.0,502.6 1498.6,499.3 1499.4,496.1 1500.1,493.3 1500.8,490.4 1501.5,487.6 1502.4,485.0 1503.3,482.7 1504.5,480.8 1505.4,479.7 1506.5,478.8 1507.6,478.0 1508.7,477.4 1509.8,477.0 1510.9,477.0 1512.2,477.8 1513.4,479.3 1514.6,481.3 1515.9,483.3 1517.1,485.0 1518.5,485.9 1519.7,486.1 1521.0,485.9 1522.3,485.5 1523.6,484.9 1524.9,484.2 1526.1,483.4 1527.5,481.9 1528.9,479.8 1530.1,477.4 1531.4,475.3 1532.6,473.7 1533.7,473.2 1534.9,474.3 1536.0,476.8 1537.1,480.1 1538.2,483.3 1539.2,485.7 1540.1,486.6 1541.0,485.4 1541.7,482.5 1542.3,478.6 1543.0,474.5 1543.9,470.7 1545.2,468.1 1546.3,467.1 1547.6,466.5 1548.9,466.0 1550.3,465.6 1551.6,465.1 1552.8,464.3 1554.0,462.9 1555.0,461.1 1555.9,459.2 1556.9,457.3 1558.0,455.5 1559.2,454.1 1560.5,453.2 1562.0,452.5 1563.6,451.9 1565.1,451.4 1566.7,450.9 1568.1,450.3 1569.3,449.6 1570.5,448.7 1571.6,447.7 1572.7,446.9 1573.8,446.4 1574.9,446.2 1576.0,446.5 1577.2,447.0 1578.3,447.9 1579.4,448.9 1580.4,450.0 1581.4,451.1 1582.4,452.5 1583.2,454.2 1583.9,456.0 1584.6,457.8 1585.3,459.5 1586.2,460.9 1587.0,461.9 1587.7,462.7 1588.6,463.5 1589.4,464.3 1590.2,465.0 1591.1,465.7 1591.9,466.3 1592.8,466.7 1593.7,467.1 1594.5,467.6 1595.3,468.2 1596.0,469.0 1596.9,471.1 1597.4,473.7 1597.7,476.8 1598.0,480.2 1598.1,483.6 1598.4,486.9 1598.8,490.7 1599.1,494.7 1599.3,498.8 1599.6,503.0 1599.8,507.1 1600.1,511.2 1600.4,515.3 1600.7,519.4 1601.0,523.5 1601.2,527.6 1601.5,531.6 1601.7,535.6 1601.9,539.3 1602.0,542.9 1602.1,546.6 1602.2,550.1 1602.3,553.5 1602.5,556.7 1602.6,559.2 1602.7,561.9 1602.8,564.5 1603.0,566.7 1603.4,568.4 1604.1,569.3 1604.8,569.4 1605.6,569.1 1606.4,568.5 1607.4,567.8 1608.2,567.1 1609.0,566.5 1609.6,566.0 1610.2,565.6 1610.8,565.2 1611.3,564.7 1611.8,564.0 1612.2,563.2 1612.9,560.2 1613.2,556.1 1613.2,551.3 1613.1,546.0 1613.0,540.7 1613.0,535.6 1613.1,530.2 1613.2,524.7 1613.4,519.0 1613.5,513.4 1613.7,508.1 1613.9,503.1 1614.0,499.2 1614.1,494.9 1614.2,490.8 1614.4,487.3 1614.8,484.7 1615.5,483.6 1616.0,483.6 1616.5,483.9 1617.1,484.4 1617.7,485.1 1618.2,486.0 1618.7,486.9 1619.7,491.0 1620.2,496.9 1620.3,504.1 1620.3,512.0 1620.3,520.0 1620.4,527.5 1620.6,535.4 1620.7,543.4 1620.8,551.6 1620.9,559.8 1621.0,568.0 1621.2,576.2 1621.4,585.4 1621.6,595.9 1621.7,606.4 1622.0,615.5 1622.3,622.0 1622.8,624.5 1623.2,623.8 1623.6,621.9 1624.0,619.1 1624.5,615.8 1624.9,612.2 1625.2,608.7 1625.6,602.1 1625.8,594.5 1625.9,586.0 1626.0,577.2 1626.0,568.4 1626.1,560.0 1626.2,551.8 1626.3,543.6 1626.4,535.3 1626.6,527.1 1626.7,519.1 1626.9,511.2 1627.1,503.9 1627.3,496.4 1627.5,488.9 1627.8,481.9 1628.1,475.7 1628.5,470.6 1628.7,468.5 1628.8,466.5 1628.9,464.8 1629.1,463.3 1629.5,461.9 1630.1,460.9 1630.8,460.3 1631.6,459.8 1632.5,459.4 1633.4,459.1 1634.3,459.1 1635.0,459.2 1635.7,459.7 1636.2,460.7 1636.8,461.9 1637.3,463.0 1637.7,463.8 1638.2,464.1 1638.8,463.3 1639.3,461.5 1639.8,459.2 1640.3,456.9 1640.8,455.2 1641.5,454.4 1642.4,455.1 1643.5,457.1 1644.7,459.8 1645.9,462.4 1647.0,464.5 1648.0,465.3 1648.6,465.1 1649.2,464.6 1649.7,463.9 1650.2,462.9 1650.7,461.9 1651.2,460.9 1651.9,458.9 1652.4,456.2 1652.9,453.3 1653.4,450.6 1653.9,448.7 1654.5,447.9 1655.2,448.8 1656.0,451.2 1656.8,454.3 1657.7,457.5 1658.5,459.9 1659.4,460.9 1660.2,460.2 1661.0,458.4 1661.8,456.1 1662.6,453.7 1663.4,451.9 1664.2,451.1 1664.9,451.3 1665.6,452.1 1666.4,453.1 1667.1,454.5 1667.7,456.0 1668.3,457.6 1669.1,461.9 1669.4,467.9 1669.6,474.6 1669.7,480.7 1670.0,485.3 1670.7,487.2 1671.3,486.9 1672.0,485.9 1672.8,484.4 1673.5,482.6 1674.2,480.7 1674.8,478.7 1675.4,474.7 1675.7,469.5 1675.8,463.8 1675.9,458.4 1676.3,453.9 1677.2,451.1 1677.7,450.5 1678.2,450.0 1678.8,449.7 1679.4,449.5 1680.0,449.4 1680.5,449.5 1681.1,450.1 1681.7,451.4 1682.2,452.9 1682.6,454.4 1683.1,455.5 1683.7,456.0 1684.5,455.3 1685.3,453.4 1686.2,451.1 1687.0,448.7 1687.8,446.9 1688.6,446.2 1689.2,446.6 1689.8,447.7 1690.3,449.2 1690.8,450.9 1691.3,452.7 1691.9,454.4 1692.7,456.4 1693.5,458.6 1694.3,460.8 1695.1,463.1 1696.0,465.3 1696.7,467.4 1697.3,469.1 1697.9,470.6 1698.4,472.1 1699.0,473.7 1699.5,475.3 1700.0,477.1 1700.6,479.7 1701.2,482.5 1701.8,485.5 1702.3,488.6 1702.8,491.8 1703.2,495.0 1703.6,498.8 1703.9,502.8 1704.1,507.0 1704.3,511.1 1704.6,515.3 1704.8,519.4 1705.1,523.4 1705.4,527.4 1705.7,531.4 1705.9,535.4 1706.2,539.5 1706.5,543.7 1706.8,548.4 1707.1,553.3 1707.3,558.2 1707.6,563.2 1707.8,568.1 1708.1,573.0 1708.4,577.6 1708.6,582.2 1708.9,586.7 1709.1,591.3 1709.4,595.9 1709.7,600.6 1710.0,606.0 1710.4,611.7 1710.7,617.5 1711.1,623.2 1711.6,628.4 1712.2,633.1 1712.7,636.1 1713.2,639.3 1713.7,642.4 1714.3,644.9 1714.8,646.6 1715.4,647.3 1716.0,646.6 1716.6,644.9 1717.2,642.4 1717.7,639.3 1718.3,636.1 1718.7,633.1 1719.2,628.5 1719.5,623.3 1719.7,617.7 1719.9,611.9 1720.1,606.2 1720.3,600.6 1720.6,595.2 1720.8,589.8 1721.1,584.4 1721.4,578.9 1721.6,573.5 1721.9,568.1 1722.2,562.6 1722.4,557.1 1722.7,551.6 1722.9,546.2 1723.2,540.8 1723.5,535.6 1723.7,530.9 1723.9,526.2 1724.0,521.5 1724.3,517.0 1724.6,513.0 1725.2,509.6 1725.6,507.8 1726.1,506.0 1726.6,504.3 1727.2,502.9 1727.8,501.9 1728.4,501.5 1729.0,502.0 1729.8,503.2 1730.5,504.8 1731.3,506.4 1731.9,507.6 1732.5,508.0 1733.0,506.9 1733.3,504.4 1733.4,500.9 1733.4,497.0 1733.6,493.2 1734.1,490.1 1734.8,487.7 1735.6,485.2 1736.5,482.7 1737.4,480.6 1738.3,479.2 1739.0,478.7 1739.5,479.5 1740.0,481.4 1740.4,483.9 1740.8,486.4 1741.1,488.2 1741.5,489.0 1741.9,488.2 1742.1,486.2 1742.4,483.4 1742.7,480.6 1743.3,478.1 1744.0,476.5 1744.6,476.1 1745.2,475.9 1746.0,475.9 1746.7,475.8 1747.4,475.7 1748.0,475.5 1748.6,475.1 1749.2,474.6 1749.7,474.1 1750.2,473.5 1750.6,472.8 1751.0,472.0 1751.5,470.7 1751.8,469.1 1752.0,467.4 1752.2,465.5 1752.3,463.7 1752.5,462.0 1752.7,460.3 1752.8,458.6 1752.9,456.8 1753.0,455.1 1753.2,453.5 1753.5,452.0 1753.8,450.9 1754.2,449.7 1754.5,448.6 1755.0,447.7 1755.5,446.8 1756.0,446.0 1756.4,445.5 1756.9,445.2 1757.4,444.9 1758.0,444.6 1758.5,444.3 1759.0,444.0" stroke="#f00"/>
<polyline points="131.0,801.8 135.5,802.1 140.0,802.5 144.5,802.8 149.0,803.2 153.5,803.5 158.0,803.8 162.6,804.1 167.3,804.4 171.9,804.6 176.6,804.9 181.2,805.1 185.9,805.2 190.8,805.2 195.8,805.2 200.9,805.1 205.8,805.0 210.2,805.0 213.9,805.2 215.6,805.4 217.1,805.5 218.4,805.7 219.7,805.9 221.0,806.2 222.3,806.6 223.7,807.1 225.1,807.9 226.5,808.6 227.9,809.4 229.3,809.9 230.7,810.2 232.1,810.2 233.6,810.0 235.0,809.7 236.5,809.2 237.8,808.6 239.1,808.0 240.1,807.2 241.1,806.2 241.9,805.1 242.7,804.0 243.7,803.1 244.7,802.4 245.9,802.1 247.1,802.0 248.4,802.0 249.8,802.2 251.4,802.3 253.0,802.4 256.2,802.3 260.1,802.1 264.3,801.9 268.4,801.9 272.2,802.2 275.4,802.9 277.1,803.7 278.7,804.7 280.0,805.8 281.3,807.0 282.5,808.2 283.8,809.4 285.1,810.5 286.3,811.6 287.5,812.8 288.7,813.9 289.8,815.1 290.8,816.4 291.6,817.7 292.2,819.2 292.8,820.6 293.4,822.1 294.1,823.5 295.0,824.7 296.1,825.9 297.4,827.0 298.8,828.0 300.3,829.0 301.8,829.7 303.4,830.3 305.1,830.7 306.9,830.9 308.7,830.9 310.6,830.7 312.6,830.5 314.6,830.3 317.2,829.9 319.9,829.3 322.8,828.7 325.6,827.9 328.5,827.0 331.3,826.1 334.1,825.0 337.0,823.8 339.8,822.4 342.6,821.1 345.4,820.0 348.1,819.1 350.5,818.6 352.8,818.3 355.1,818.0 357.5,817.9 359.8,817.8 362.1,817.8 364.4,817.8 366.7,817.8 369.0,817.9 371.3,818.0 373.6,818.3 376.1,818.6 379.1,819.2 382.3,819.9 385.5,820.8 388.8,821.7 392.2,822.6 395.7,823.3 400.1,824.1 404.6,824.9 409.3,825.7 414.1,826.3 418.9,826.8 423.6,827.0 428.3,827.0 432.9,826.7 437.6,826.3 442.3,825.8 446.9,825.3 451.6,824.7 456.2,824.1 460.8,823.3 465.4,822.5 470.0,821.8 474.7,821.1 479.6,820.5 485.8,820.1 492.7,819.8 499.7,819.7 506.3,819.5 511.9,819.4 515.9,819.1 516.8,819.0 517.5,818.9 518.1,818.8 518.7,818.7 519.3,818.5 520.0,818.3 521.5,817.7 523.1,817.0 524.9,816.1 526.7,815.3 528.5,814.6 530.1,814.2 531.3,814.1 532.6,814.1 533.8,814.2 535.0,814.4 536.1,814.8 537.1,815.2 538.0,815.8 538.9,816.7 539.7,817.7 540.4,818.7 541.2,819.6 542.1,820.3 543.0,820.7 543.9,820.9 544.8,821.1 545.7,821.3 546.5,821.7 547.2,822.3 547.8,823.8 548.1,825.7 548.2,828.0 548.1,830.5 548.1,833.0 548.2,835.4 548.4,838.3 548.7,841.6 549.0,845.0 549.3,848.0 549.7,850.1 550.2,851.0 550.6,850.7 551.1,849.9 551.7,848.7 552.2,847.3 552.8,845.8 553.2,844.4 553.6,842.4 553.9,839.9 554.1,837.3 554.4,834.9 554.7,833.2 555.2,832.4 555.6,832.5 556.2,832.9 556.7,833.6 557.3,834.5 557.8,835.5 558.3,836.4 558.9,838.3 559.4,840.8 559.9,843.5 560.3,845.9 560.8,847.8 561.3,848.5 561.8,848.3 562.3,847.5 562.8,846.4 563.4,845.1 563.9,843.7 564.3,842.4 564.7,840.1 565.0,837.3 565.1,834.2 565.3,831.4 565.7,829.3 566.3,828.3 566.8,828.3 567.4,828.8 568.0,829.4 568.7,830.2 569.5,830.9 570.3,831.3 571.5,831.6 572.9,831.9 574.5,832.0 575.9,832.0 577.3,831.7 578.4,831.3 579.2,830.6 579.8,829.8 580.2,828.7 580.6,827.6 581.0,826.4 581.4,825.3 581.8,823.9 582.0,822.4 582.2,820.9 582.5,819.4 582.8,818.1 583.4,817.2 583.9,816.8 584.6,816.5 585.3,816.3 586.0,816.2 586.7,816.2 587.5,816.2 588.4,816.4 589.4,816.8 590.4,817.4 591.4,817.9 592.4,818.2 593.5,818.3 594.9,817.8 596.5,816.9 598.1,815.7 599.6,814.5 601.2,813.6 602.6,813.2 603.7,813.4 604.7,814.0 605.7,814.8 606.7,815.6 607.6,816.1 608.6,816.2 609.8,815.7 610.9,814.5 611.9,813.1 613.1,811.6 614.3,810.2 615.6,809.2 617.1,808.6 618.7,808.2 620.5,807.9 622.2,807.7 624.0,807.5 625.7,807.2 627.4,806.7 629.1,806.2 630.8,805.7 632.5,805.2 634.1,804.7 635.8,804.2 637.4,803.7 639.0,803.2 640.5,802.6 642.1,802.2 643.5,802.0 644.8,802.1 645.8,802.4 646.7,803.0 647.5,803.7 648.3,804.5 649.1,805.3 649.9,806.2 650.8,807.5 651.7,809.3 652.5,811.1 653.3,812.7 654.1,813.9 654.9,814.4 655.6,814.2 656.2,813.5 656.9,812.5 657.5,811.4 658.2,810.2 658.9,809.2 659.7,808.2 660.5,807.1 661.3,805.9 662.1,804.9 663.0,803.9 664.0,803.2 665.0,802.7 666.1,802.3 667.2,802.0 668.4,801.8 669.6,801.7 671.0,801.6 673.3,801.6 676.0,801.7 678.8,802.0 681.6,802.3 684.1,802.6 686.1,802.7 686.9,802.7 687.5,802.7 688.0,802.6 688.6,802.5 689.2,802.5 690.0,802.5 692.3,802.7 695.3,803.0 698.6,803.4 702.1,803.8 705.5,804.0 708.5,804.0 710.6,803.7 712.6,803.3 714.5,802.8 716.4,802.3 718.5,801.8 720.8,801.5 725.1,801.4 730.0,801.5 735.3,801.9 740.7,802.3 746.2,802.6 751.5,802.8 756.6,802.8 761.6,802.7 766.6,802.5 771.7,802.4 776.9,802.2 782.3,802.1 789.3,802.0 796.8,801.9 804.5,801.8 812.0,801.8 819.1,801.9 825.3,802.1 828.8,802.3 832.0,802.6 835.0,802.9 837.9,803.2 840.8,803.6 843.8,804.0 847.2,804.6 850.7,805.5 854.2,806.4 857.6,807.2 860.8,807.7 863.8,807.7 865.8,807.2 867.7,806.4 869.5,805.3 871.2,804.3 872.9,803.5 874.6,803.1 876.1,803.1 877.6,803.4 879.0,803.9 880.5,804.5 882.0,804.9 883.8,805.2 886.9,805.3 890.5,805.1 894.4,804.7 898.2,804.4 902.0,804.1 905.3,804.0 907.6,804.2 909.8,804.5 912.0,804.9 914.0,805.2 915.9,805.3 917.6,805.2 918.7,804.9 919.6,804.4 920.5,803.8 921.4,803.1 922.4,802.6 923.8,802.1 928.6,801.5 934.9,801.3 942.4,801.4 950.4,801.7 958.7,802.0 966.8,802.1 977.1,802.0 988.5,801.7 1000.3,801.4 1011.5,801.2 1021.2,801.2 1028.4,801.5 1030.4,801.7 1032.0,801.8 1033.4,802.0 1034.8,802.2 1036.1,802.6 1037.6,803.1 1039.8,804.3 1042.1,806.0 1044.5,807.9 1046.9,809.7 1049.2,810.9 1051.4,811.3 1053.3,810.6 1055.1,808.9 1056.9,806.9 1058.6,804.8 1060.4,803.0 1062.2,802.1 1063.7,801.9 1065.3,802.1 1066.8,802.5 1068.3,803.1 1069.9,803.8 1071.4,804.6 1073.2,805.9 1075.0,807.8 1076.8,809.8 1078.6,811.7 1080.4,813.0 1082.2,813.5 1084.0,812.8 1085.8,811.0 1087.6,808.7 1089.3,806.3 1091.1,804.3 1093.0,803.1 1094.5,802.7 1096.0,802.6 1097.5,802.8 1099.1,803.1 1100.6,803.5 1102.2,804.0 1104.2,805.0 1106.3,806.5 1108.4,808.3 1110.5,809.8 1112.5,811.0 1114.5,811.3 1116.4,810.5 1118.2,808.8 1119.9,806.6 1121.7,804.5 1123.4,802.8 1125.2,802.1 1127.0,802.6 1128.8,803.9 1130.6,805.7 1132.4,807.5 1134.2,808.9 1136.0,809.5 1137.5,809.1 1138.9,808.1 1140.3,806.8 1141.7,805.3 1143.3,804.0 1145.2,803.1 1148.7,802.3 1153.0,801.9 1157.7,801.7 1162.3,801.9 1166.5,802.4 1169.9,803.1 1171.5,803.7 1172.9,804.5 1174.2,805.3 1175.4,806.3 1176.5,807.3 1177.7,808.3 1179.0,809.5 1180.2,810.9 1181.4,812.3 1182.7,813.7 1184.0,815.0 1185.4,816.0 1187.0,816.7 1188.7,817.1 1190.6,817.3 1192.4,817.5 1194.1,817.9 1195.7,818.6 1197.2,819.6 1198.5,820.9 1199.8,822.4 1201.0,823.8 1202.2,825.2 1203.4,826.3 1204.3,827.0 1205.2,827.6 1206.0,828.1 1206.9,828.6 1207.7,829.1 1208.6,829.5 1209.5,829.8 1210.4,830.1 1211.3,830.3 1212.2,830.5 1213.0,830.9 1213.7,831.5 1214.5,832.9 1214.9,834.8 1215.2,837.1 1215.4,839.5 1215.5,842.0 1215.7,844.3 1216.0,846.9 1216.2,849.6 1216.4,852.4 1216.5,855.1 1216.7,857.6 1217.0,859.8 1217.2,861.1 1217.3,862.4 1217.5,863.6 1217.7,864.6 1217.9,865.3 1218.2,865.6 1218.6,865.4 1219.0,864.7 1219.5,863.7 1220.0,862.5 1220.4,861.1 1220.8,859.8 1221.3,857.0 1221.6,853.6 1221.7,849.8 1221.8,845.7 1221.9,841.7 1222.1,837.9 1222.3,834.1 1222.3,830.1 1222.4,826.1 1222.6,822.3 1222.9,818.9 1223.4,816.0 1223.8,814.6 1224.3,813.5 1224.7,812.4 1225.3,811.4 1225.9,810.5 1226.6,809.6 1227.3,808.8 1228.1,808.1 1229.0,807.4 1229.8,806.8 1230.8,806.2 1231.7,805.7 1232.7,805.2 1233.7,804.6 1234.8,804.2 1235.9,803.8 1237.0,803.4 1238.2,803.2 1239.6,803.1 1241.1,803.1 1242.6,803.2 1244.1,803.3 1245.7,803.6 1247.2,803.8 1248.9,804.1 1250.7,804.4 1252.6,804.9 1254.3,805.3 1256.0,805.8 1257.5,806.4 1258.5,806.8 1259.5,807.2 1260.4,807.7 1261.2,808.2 1261.9,808.8 1262.6,809.6 1263.3,811.4 1263.8,813.8 1264.1,816.5 1264.4,819.0 1264.7,820.9 1265.2,821.7 1265.6,821.6 1266.0,821.3 1266.5,820.7 1267.0,820.0 1267.4,819.3 1267.8,818.6 1268.2,817.4 1268.6,816.0 1268.8,814.4 1269.2,812.9 1269.6,811.7 1270.3,810.9 1271.2,810.6 1272.2,810.7 1273.3,810.9 1274.5,811.3 1275.7,811.8 1276.8,812.2 1277.9,812.7 1279.1,813.2 1280.2,813.8 1281.3,814.5 1282.3,815.2 1283.2,816.0 1284.0,816.7 1284.7,817.4 1285.4,818.2 1286.0,819.0 1286.6,820.0 1287.1,821.2 1287.8,824.0 1288.3,827.4 1288.5,831.3 1288.7,835.5 1288.8,839.9 1289.0,844.3 1289.3,850.1 1289.5,856.4 1289.7,862.8 1289.9,869.5 1290.1,876.2 1290.3,882.9 1290.5,890.9 1290.7,900.3 1290.8,909.7 1291.0,917.9 1291.3,923.8 1291.6,926.0 1291.9,925.2 1292.2,923.0 1292.5,919.9 1292.9,916.2 1293.2,912.3 1293.5,908.6 1293.8,903.0 1294.1,896.9 1294.3,890.3 1294.5,883.4 1294.6,876.6 1294.8,870.0 1294.9,863.5 1295.0,856.8 1295.1,850.1 1295.1,843.6 1295.2,837.4 1295.4,831.5 1295.5,827.1 1295.5,822.7 1295.6,818.4 1295.7,814.5 1296.1,811.1 1296.7,808.3 1297.1,807.1 1297.6,806.0 1298.1,805.0 1298.7,804.2 1299.3,803.5 1300.0,803.2 1300.7,803.2 1301.5,803.6 1302.4,804.1 1303.3,804.8 1304.2,805.3 1305.1,805.7 1306.1,805.8 1307.2,805.8 1308.3,805.7 1309.4,805.6 1310.4,805.6 1311.5,805.7 1312.6,806.1 1313.7,806.7 1314.7,807.4 1315.8,808.1 1316.8,808.6 1317.9,808.9 1319.0,808.8 1320.0,808.5 1321.1,808.1 1322.2,807.6 1323.3,807.2 1324.4,807.0 1325.5,807.0 1326.6,807.1 1327.6,807.3 1328.7,807.5 1329.8,807.9 1330.8,808.3 1331.9,808.9 1332.9,809.7 1333.9,810.7 1334.9,811.6 1336.0,812.5 1337.2,813.4 1338.8,814.4 1340.5,815.4 1342.4,816.4 1344.2,817.4 1345.9,818.1 1347.5,818.6 1348.4,818.7 1349.3,818.7 1350.2,818.5 1351.0,818.4 1351.8,818.4 1352.7,818.6 1354.0,819.2 1355.3,820.1 1356.7,821.2 1358.0,822.5 1359.3,823.8 1360.4,825.0 1361.4,826.2 1362.2,827.4 1363.0,828.7 1363.8,830.1 1364.6,831.4 1365.5,832.7 1366.7,834.2 1367.9,835.7 1369.3,837.1 1370.6,838.6 1371.9,840.2 1373.2,841.7 1374.4,843.2 1375.6,844.8 1376.8,846.3 1377.9,847.9 1379.0,849.5 1380.0,851.3 1381.0,853.4 1381.8,855.7 1382.5,858.0 1383.2,860.4 1383.9,862.9 1384.7,865.3 1385.6,867.9 1386.6,870.6 1387.6,873.3 1388.6,876.0 1389.6,878.8 1390.5,881.6 1391.4,884.6 1392.2,887.5 1393.0,890.6 1393.8,893.6 1394.5,896.8 1395.2,900.2 1395.9,904.7 1396.4,909.6 1396.8,914.6 1397.2,919.6 1397.8,924.2 1398.6,928.2 1399.3,930.4 1400.1,932.3 1400.9,934.1 1401.8,935.9 1402.6,937.8 1403.3,939.9 1404.1,943.2 1404.8,946.9 1405.4,950.7 1405.9,954.8 1406.3,958.9 1406.8,963.2 1407.3,968.6 1407.7,974.3 1408.0,980.2 1408.3,986.2 1408.7,992.2 1409.1,998.1 1409.6,1004.0 1410.2,1009.9 1410.8,1015.8 1411.4,1021.6 1412.0,1027.4 1412.6,1033.1 1413.2,1038.3 1413.7,1043.4 1414.3,1048.5 1414.9,1053.5 1415.5,1058.4 1416.1,1063.4 1416.7,1068.2 1417.2,1073.0 1417.8,1077.8 1418.4,1082.5 1419.0,1087.1 1419.6,1091.4 1420.1,1094.8 1420.7,1098.0 1421.3,1101.2 1421.9,1104.2 1422.5,1107.1 1423.1,1110.0 1423.7,1112.6 1424.2,1115.6 1424.8,1118.4 1425.4,1120.9 1426.0,1122.6 1426.6,1123.2 1427.2,1122.4 1427.8,1120.4 1428.5,1117.5 1429.0,1114.1 1429.6,1110.7 1430.1,1107.7 1430.5,1104.6 1430.7,1101.2 1430.9,1097.7 1431.1,1094.4 1431.6,1091.4 1432.4,1089.0 1433.2,1087.8 1434.1,1086.8 1435.1,1085.9 1436.1,1085.1 1437.2,1084.2 1438.3,1083.2 1439.8,1081.7 1441.3,1080.1 1443.0,1078.4 1444.6,1076.6 1446.1,1074.7 1447.6,1072.7 1449.2,1070.3 1450.7,1067.6 1452.2,1064.9 1453.5,1062.1 1454.7,1059.2 1455.8,1056.4 1456.6,1053.7 1457.3,1051.0 1457.8,1048.3 1458.3,1045.6 1458.8,1042.8 1459.3,1040.1 1459.9,1037.4 1460.4,1034.7 1461.0,1032.0 1461.6,1029.3 1462.2,1026.6 1462.8,1023.8 1463.5,1020.7 1464.4,1017.6 1465.2,1014.5 1466.0,1011.3 1466.8,1008.2 1467.4,1005.1 1467.8,1002.0 1468.0,998.6 1468.2,995.3 1468.4,992.3 1468.9,990.0 1469.7,988.8 1470.4,988.8 1471.2,989.3 1472.0,990.0 1472.9,990.7 1473.7,991.1 1474.4,991.1 1475.4,989.4 1475.9,986.2 1476.1,981.8 1476.2,977.0 1476.4,972.1 1476.7,967.8 1477.2,963.9 1477.8,959.9 1478.3,956.0 1479.0,952.1 1479.6,948.2 1480.2,944.5 1480.8,940.8 1481.3,936.8 1481.9,932.7 1482.5,929.3 1483.1,926.8 1483.7,925.9 1484.4,927.3 1485.0,930.7 1485.8,935.2 1486.5,939.7 1487.1,943.1 1487.7,944.5 1488.3,942.9 1488.8,938.9 1489.2,933.4 1489.6,927.2 1490.1,921.3 1490.7,916.6 1491.2,913.7 1491.6,910.6 1492.1,907.7 1492.7,905.2 1493.4,903.4 1494.2,902.6 1494.9,902.7 1495.7,903.2 1496.5,904.0 1497.4,905.0 1498.2,906.1 1498.9,907.2 1499.7,908.8 1500.3,910.6 1500.8,912.6 1501.2,914.7 1501.8,916.8 1502.4,918.9 1503.2,921.6 1504.2,924.8 1505.1,928.0 1506.1,930.8 1507.2,932.9 1508.2,933.7 1509.2,933.3 1510.2,932.0 1511.2,930.2 1512.2,928.0 1513.2,925.7 1514.0,923.5 1514.8,920.8 1515.5,917.8 1516.0,914.7 1516.5,911.4 1517.0,908.1 1517.5,904.9 1518.1,901.5 1518.6,898.0 1519.2,894.5 1519.8,891.0 1520.4,887.5 1521.0,883.9 1521.7,880.0 1522.5,876.1 1523.3,872.1 1524.1,868.1 1524.9,864.3 1525.7,860.6 1526.3,857.7 1526.8,854.8 1527.3,852.0 1527.8,849.2 1528.5,846.7 1529.2,844.3 1529.8,842.5 1530.5,840.8 1531.2,839.2 1532.0,837.7 1532.8,836.3 1533.9,835.0 1535.2,833.8 1536.7,832.7 1538.3,831.7 1540.0,830.8 1541.7,829.9 1543.2,829.1 1544.4,828.5 1545.7,828.0 1546.9,827.5 1548.1,827.0 1549.2,826.4 1550.2,825.6 1551.2,824.4 1552.0,822.9 1552.6,821.4 1553.3,819.7 1554.0,818.0 1554.8,816.3 1555.9,814.2 1557.0,811.8 1558.1,809.4 1559.3,807.2 1560.6,805.6 1561.8,804.7 1562.6,804.6 1563.4,804.9 1564.2,805.3 1565.0,805.9 1565.8,806.5 1566.5,807.0 1567.2,807.4 1567.8,807.9 1568.4,808.3 1568.9,808.8 1569.5,809.5 1570.0,810.2 1570.8,812.2 1571.3,815.1 1571.8,818.2 1572.3,821.2 1572.9,823.4 1573.7,824.3 1574.6,823.7 1575.5,821.9 1576.6,819.4 1577.7,816.9 1578.9,814.9 1580.1,813.9 1581.1,813.9 1582.1,814.4 1583.2,815.2 1584.3,816.1 1585.4,816.9 1586.5,817.5 1587.4,817.7 1588.4,817.8 1589.4,817.8 1590.3,817.9 1591.2,818.1 1592.0,818.5 1592.9,819.4 1593.6,820.5 1594.2,821.8 1594.7,823.3 1595.2,824.9 1595.7,826.7 1596.3,830.3 1596.7,834.7 1597.0,839.5 1597.1,844.5 1597.3,849.5 1597.5,854.3 1597.8,858.9 1598.1,863.5 1598.5,868.0 1598.8,872.6 1599.1,877.2 1599.4,881.8 1599.7,886.4 1600.0,891.0 1600.3,895.6 1600.6,900.2 1600.9,904.8 1601.2,909.4 1601.5,914.1 1601.8,919.0 1602.2,923.8 1602.5,928.6 1602.8,933.0 1603.1,936.9 1603.2,939.4 1603.2,942.0 1603.1,944.5 1603.2,946.6 1603.4,948.2 1604.0,949.0 1604.6,949.1 1605.4,948.8 1606.2,948.2 1607.1,947.5 1607.9,946.8 1608.6,946.1 1609.3,945.4 1609.9,944.7 1610.5,943.9 1611.0,943.0 1611.5,941.9 1611.9,940.6 1612.8,934.4 1613.0,925.5 1612.8,914.9 1612.5,903.5 1612.2,892.1 1612.2,881.8 1612.3,872.3 1612.3,862.2 1612.4,852.1 1612.6,843.0 1613.1,835.4 1614.1,830.4 1614.5,829.4 1615.0,828.4 1615.5,827.7 1615.9,827.1 1616.4,826.8 1616.8,826.7 1617.6,828.7 1618.1,833.5 1618.3,840.3 1618.5,848.1 1618.5,856.1 1618.7,863.5 1618.9,872.0 1619.1,881.0 1619.2,890.4 1619.3,899.8 1619.4,909.3 1619.6,918.6 1619.8,928.0 1620.1,937.7 1620.4,947.4 1620.7,956.8 1621.1,965.7 1621.4,973.7 1621.6,979.3 1621.8,985.3 1622.1,991.0 1622.3,995.8 1622.6,999.1 1622.9,1000.4 1623.2,999.6 1623.6,997.6 1624.0,994.5 1624.4,990.8 1624.8,986.8 1625.1,982.8 1625.6,974.4 1625.9,964.2 1626.2,952.9 1626.4,941.1 1626.6,929.5 1626.9,918.6 1627.2,909.0 1627.5,899.3 1627.8,889.8 1628.1,880.6 1628.4,871.7 1628.8,863.5 1629.0,857.6 1629.1,851.9 1629.3,846.4 1629.5,841.2 1629.9,836.5 1630.6,832.2 1631.2,829.7 1632.0,827.4 1632.8,825.4 1633.6,823.4 1634.4,821.4 1635.2,819.4 1635.8,817.4 1636.3,815.2 1636.8,813.1 1637.4,811.2 1638.0,809.6 1638.9,808.4 1639.6,807.9 1640.3,807.6 1641.1,807.3 1641.9,807.3 1642.7,807.3 1643.5,807.4 1644.6,807.9 1645.8,808.9 1647.0,810.0 1648.2,811.2 1649.5,812.3 1650.8,813.0 1652.3,813.4 1653.8,813.5 1655.4,813.5 1657.1,813.4 1658.6,813.2 1660.0,813.0 1661.0,812.7 1662.0,812.2 1662.9,811.7 1663.8,811.2 1664.7,811.0 1665.5,811.1 1666.7,812.4 1667.9,814.7 1669.0,817.6 1670.0,820.4 1671.0,822.4 1671.9,823.2 1672.6,822.6 1673.2,821.0 1673.8,818.9 1674.4,816.4 1674.9,814.0 1675.6,812.0 1676.3,810.2 1677.0,808.3 1677.7,806.4 1678.5,804.7 1679.3,803.5 1680.2,802.9 1680.9,802.9 1681.7,803.3 1682.5,803.9 1683.4,804.7 1684.1,805.6 1684.8,806.5 1685.6,807.9 1686.2,809.7 1686.8,811.6 1687.3,813.6 1687.9,815.6 1688.5,817.5 1689.2,819.4 1689.9,821.2 1690.5,823.1 1691.3,824.9 1692.1,826.8 1693.0,828.6 1694.1,830.4 1695.5,832.2 1696.9,834.0 1698.2,835.7 1699.5,837.6 1700.4,839.6 1701.1,841.8 1701.5,844.1 1701.7,846.5 1701.9,848.9 1702.0,851.5 1702.2,854.3 1702.6,858.4 1702.9,862.8 1703.2,867.5 1703.5,872.3 1703.8,877.1 1704.1,881.8 1704.4,886.4 1704.7,891.0 1704.9,895.6 1705.2,900.2 1705.5,904.8 1705.9,909.4 1706.3,913.9 1706.8,918.4 1707.3,922.9 1707.8,927.4 1708.2,932.1 1708.7,936.9 1709.2,942.7 1709.6,948.8 1710.1,955.0 1710.5,961.2 1711.0,967.5 1711.4,973.7 1711.9,979.9 1712.3,986.3 1712.7,992.7 1713.2,998.9 1713.7,1004.9 1714.2,1010.4 1714.6,1014.7 1715.1,1019.4 1715.5,1024.0 1716.0,1027.8 1716.4,1030.5 1716.9,1031.5 1717.4,1030.5 1717.9,1027.7 1718.4,1023.8 1718.8,1019.2 1719.3,1014.6 1719.7,1010.4 1720.1,1006.1 1720.4,1001.6 1720.7,997.1 1721.0,992.4 1721.2,987.7 1721.5,982.8 1721.8,977.0 1722.1,971.0 1722.4,964.8 1722.7,958.5 1723.0,952.3 1723.4,946.1 1723.8,939.9 1724.2,933.5 1724.6,927.1 1725.1,920.8 1725.6,914.9 1726.1,909.4 1726.4,905.6 1726.7,901.8 1727.0,898.2 1727.4,894.9 1728.0,891.8 1728.9,889.2 1729.8,887.7 1730.8,886.3 1731.9,885.2 1733.1,884.1 1734.2,883.0 1735.3,881.8 1736.3,880.6 1737.2,879.5 1738.2,878.4 1739.1,877.2 1740.0,875.9 1740.8,874.5 1741.9,872.4 1742.9,870.0 1743.8,867.5 1744.7,864.9 1745.5,862.3 1746.3,859.8 1747.0,857.4 1747.5,855.0 1748.1,852.6 1748.6,850.1 1749.0,847.6 1749.5,845.0 1750.1,841.8 1750.6,838.5 1751.1,835.2 1751.6,831.7 1752.1,828.3 1752.5,825.0 1752.8,821.7 1753.0,818.1 1753.1,814.6 1753.3,811.3 1753.8,808.4 1754.5,806.0 1755.1,804.9 1755.8,804.0 1756.6,803.2 1757.4,802.5 1758.2,801.8 1759.0,801.0" stroke="#00f"/>
</g>
<text x="829" y="202.5" font-size="75">PTMS</text>
<text x="663" y="545.5" font-size="75">Na<tspan font-size="44" dy="28">4</tspan><tspan dy="-28">O</tspan><tspan font-size="44" dy="28">14</tspan><tspan dy="-28">Si</tspan><tspan font-size="44" dy="28">8</tspan><tspan dy="-28">(C</tspan><tspan font-size="44" dy="28">6</tspan><tspan dy="-28">H</tspan><tspan font-size="44" dy="28">5</tspan><tspan dy="-28">)</tspan><tspan font-size="44" dy="28">8</tspan></text>
<text x="762.5" y="901.5" font-size="75.7">Zr-POSS</text>
<text x="483" y="974" font-size="60">Ar-H</text>
<text x="1344" y="1207" font-size="58">Si-O-Si</text>
<text x="1511" y="1071" font-size="58.5">Si-O-Zr</text>
<text x="660" y="1395" font-size="75">Wavenumber (cm<tspan font-size="43" dy="-29">-1</tspan><tspan dy="29">)</tspan></text>
<text transform="translate(80,635) rotate(-90)" font-size="76.7" text-anchor="middle">Transmittance (a.u.)</text>
<line x1="1560.5" y1="996.6" x2="1534" y2="965" stroke="#000" stroke-width="1.8"/>
<polygon points="1515,942 1530,972.5 1542,961.5" fill="#000"/></svg>
</body></html>
